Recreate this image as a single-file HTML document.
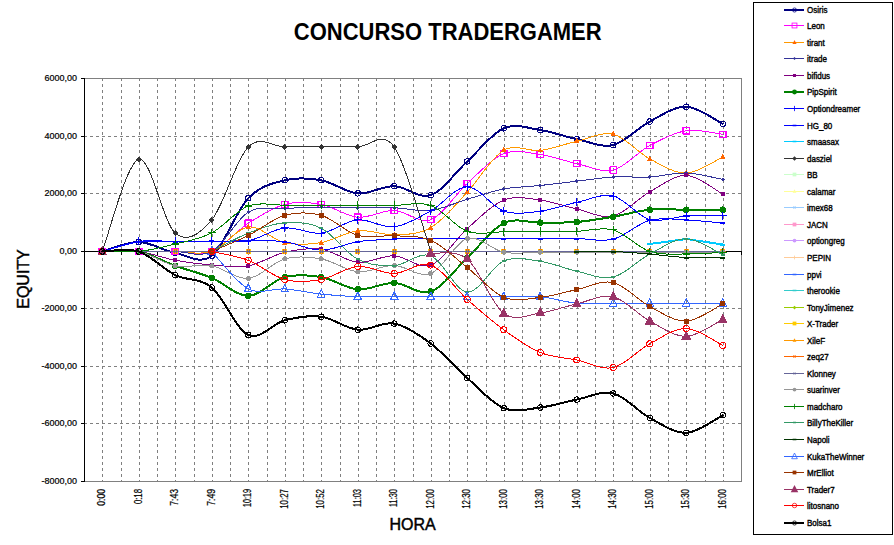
<!DOCTYPE html>
<html><head><meta charset="utf-8"><style>
html,body{margin:0;padding:0;background:#fff;width:894px;height:545px;overflow:hidden}
svg{display:block;font-family:"Liberation Sans",sans-serif}
</style></head><body>
<svg width="894" height="545" viewBox="0 0 894 545">
<rect width="894" height="545" fill="#fff"/>
<text transform="translate(447.75 40) scale(1 1.07)" font-size="22" font-weight="bold" text-anchor="middle" fill="#000">CONCURSO TRADERGAMER</text>
<g shape-rendering="crispEdges" stroke="#808080" stroke-width="1" fill="none"><line x1="102.5" y1="78" x2="102.5" y2="481" stroke-dasharray="3 3"/><line x1="121.5" y1="78" x2="121.5" y2="481" stroke-dasharray="3 3"/><line x1="139.5" y1="78" x2="139.5" y2="481" stroke-dasharray="3 3"/><line x1="157.5" y1="78" x2="157.5" y2="481" stroke-dasharray="3 3"/><line x1="175.5" y1="78" x2="175.5" y2="481" stroke-dasharray="3 3"/><line x1="194.5" y1="78" x2="194.5" y2="481" stroke-dasharray="3 3"/><line x1="212.5" y1="78" x2="212.5" y2="481" stroke-dasharray="3 3"/><line x1="230.5" y1="78" x2="230.5" y2="481" stroke-dasharray="3 3"/><line x1="248.5" y1="78" x2="248.5" y2="481" stroke-dasharray="3 3"/><line x1="267.5" y1="78" x2="267.5" y2="481" stroke-dasharray="3 3"/><line x1="285.5" y1="78" x2="285.5" y2="481" stroke-dasharray="3 3"/><line x1="303.5" y1="78" x2="303.5" y2="481" stroke-dasharray="3 3"/><line x1="321.5" y1="78" x2="321.5" y2="481" stroke-dasharray="3 3"/><line x1="340.5" y1="78" x2="340.5" y2="481" stroke-dasharray="3 3"/><line x1="358.5" y1="78" x2="358.5" y2="481" stroke-dasharray="3 3"/><line x1="376.5" y1="78" x2="376.5" y2="481" stroke-dasharray="3 3"/><line x1="394.5" y1="78" x2="394.5" y2="481" stroke-dasharray="3 3"/><line x1="413.5" y1="78" x2="413.5" y2="481" stroke-dasharray="3 3"/><line x1="431.5" y1="78" x2="431.5" y2="481" stroke-dasharray="3 3"/><line x1="449.5" y1="78" x2="449.5" y2="481" stroke-dasharray="3 3"/><line x1="467.5" y1="78" x2="467.5" y2="481" stroke-dasharray="3 3"/><line x1="486.5" y1="78" x2="486.5" y2="481" stroke-dasharray="3 3"/><line x1="504.5" y1="78" x2="504.5" y2="481" stroke-dasharray="3 3"/><line x1="522.5" y1="78" x2="522.5" y2="481" stroke-dasharray="3 3"/><line x1="540.5" y1="78" x2="540.5" y2="481" stroke-dasharray="3 3"/><line x1="559.5" y1="78" x2="559.5" y2="481" stroke-dasharray="3 3"/><line x1="577.5" y1="78" x2="577.5" y2="481" stroke-dasharray="3 3"/><line x1="595.5" y1="78" x2="595.5" y2="481" stroke-dasharray="3 3"/><line x1="613.5" y1="78" x2="613.5" y2="481" stroke-dasharray="3 3"/><line x1="632.5" y1="78" x2="632.5" y2="481" stroke-dasharray="3 3"/><line x1="650.5" y1="78" x2="650.5" y2="481" stroke-dasharray="3 3"/><line x1="668.5" y1="78" x2="668.5" y2="481" stroke-dasharray="3 3"/><line x1="686.5" y1="78" x2="686.5" y2="481" stroke-dasharray="3 3"/><line x1="705.5" y1="78" x2="705.5" y2="481" stroke-dasharray="3 3"/><line x1="723.5" y1="78" x2="723.5" y2="481" stroke-dasharray="3 3"/><line x1="84" y1="136.5" x2="741" y2="136.5" stroke-dasharray="3 3"/><line x1="84" y1="193.5" x2="741" y2="193.5" stroke-dasharray="3 3"/><line x1="84" y1="308.5" x2="741" y2="308.5" stroke-dasharray="3 3"/><line x1="84" y1="366.5" x2="741" y2="366.5" stroke-dasharray="3 3"/><line x1="84" y1="423.5" x2="741" y2="423.5" stroke-dasharray="3 3"/><line x1="84" y1="78.5" x2="742" y2="78.5"/><line x1="84" y1="481.5" x2="742" y2="481.5"/><line x1="741.5" y1="78" x2="741.5" y2="482"/></g>
<g shape-rendering="crispEdges" stroke="#000" stroke-width="1" fill="none"><line x1="84.5" y1="78" x2="84.5" y2="482"/><line x1="81" y1="78.5" x2="84" y2="78.5"/><line x1="81" y1="136.5" x2="84" y2="136.5"/><line x1="81" y1="193.5" x2="84" y2="193.5"/><line x1="81" y1="251.5" x2="84" y2="251.5"/><line x1="81" y1="308.5" x2="84" y2="308.5"/><line x1="81" y1="366.5" x2="84" y2="366.5"/><line x1="81" y1="423.5" x2="84" y2="423.5"/><line x1="81" y1="481.5" x2="84" y2="481.5"/><line x1="84" y1="251.5" x2="742" y2="251.5"/><line x1="121.5" y1="251" x2="121.5" y2="255"/><line x1="157.5" y1="251" x2="157.5" y2="255"/><line x1="194.5" y1="251" x2="194.5" y2="255"/><line x1="230.5" y1="251" x2="230.5" y2="255"/><line x1="267.5" y1="251" x2="267.5" y2="255"/><line x1="303.5" y1="251" x2="303.5" y2="255"/><line x1="340.5" y1="251" x2="340.5" y2="255"/><line x1="376.5" y1="251" x2="376.5" y2="255"/><line x1="413.5" y1="251" x2="413.5" y2="255"/><line x1="449.5" y1="251" x2="449.5" y2="255"/><line x1="486.5" y1="251" x2="486.5" y2="255"/><line x1="522.5" y1="251" x2="522.5" y2="255"/><line x1="559.5" y1="251" x2="559.5" y2="255"/><line x1="595.5" y1="251" x2="595.5" y2="255"/><line x1="632.5" y1="251" x2="632.5" y2="255"/><line x1="668.5" y1="251" x2="668.5" y2="255"/><line x1="705.5" y1="251" x2="705.5" y2="255"/><line x1="741.5" y1="251" x2="741.5" y2="255"/></g>
<g font-size="9" fill="#000" stroke="#000" stroke-width="0.2" text-anchor="end"><text x="77" y="80.8">6000,00</text><text x="77" y="138.8">4000,00</text><text x="77" y="195.8">2000,00</text><text x="77" y="253.8">0,00</text><text x="77" y="310.8">-2000,00</text><text x="77" y="368.8">-4000,00</text><text x="77" y="425.8">-6000,00</text><text x="77" y="483.8">-8000,00</text></g>
<g font-size="9" fill="#000" stroke="#000" stroke-width="0.2" text-anchor="end"><text transform="translate(105.45 489) rotate(-90) scale(1 1.12)" textLength="16.80" lengthAdjust="spacingAndGlyphs">0:00</text><text transform="translate(141.95 489) rotate(-90) scale(1 1.12)" textLength="15.10" lengthAdjust="spacingAndGlyphs">0:18</text><text transform="translate(178.45 489) rotate(-90) scale(1 1.12)" textLength="16.80" lengthAdjust="spacingAndGlyphs">7:43</text><text transform="translate(214.95 489) rotate(-90) scale(1 1.12)" textLength="16.80" lengthAdjust="spacingAndGlyphs">7:49</text><text transform="translate(251.45 489) rotate(-90) scale(1 1.12)" textLength="18.10" lengthAdjust="spacingAndGlyphs">10:19</text><text transform="translate(287.95 489) rotate(-90) scale(1 1.12)" textLength="19.80" lengthAdjust="spacingAndGlyphs">10:27</text><text transform="translate(324.45 489) rotate(-90) scale(1 1.12)" textLength="19.80" lengthAdjust="spacingAndGlyphs">10:52</text><text transform="translate(360.95 489) rotate(-90) scale(1 1.12)" textLength="18.10" lengthAdjust="spacingAndGlyphs">11:03</text><text transform="translate(397.45 489) rotate(-90) scale(1 1.12)" textLength="18.10" lengthAdjust="spacingAndGlyphs">11:30</text><text transform="translate(433.95 489) rotate(-90) scale(1 1.12)" textLength="19.80" lengthAdjust="spacingAndGlyphs">12:00</text><text transform="translate(470.45 489) rotate(-90) scale(1 1.12)" textLength="19.80" lengthAdjust="spacingAndGlyphs">12:30</text><text transform="translate(506.95 489) rotate(-90) scale(1 1.12)" textLength="19.80" lengthAdjust="spacingAndGlyphs">13:00</text><text transform="translate(543.45 489) rotate(-90) scale(1 1.12)" textLength="19.80" lengthAdjust="spacingAndGlyphs">13:30</text><text transform="translate(579.95 489) rotate(-90) scale(1 1.12)" textLength="19.80" lengthAdjust="spacingAndGlyphs">14:00</text><text transform="translate(616.45 489) rotate(-90) scale(1 1.12)" textLength="19.80" lengthAdjust="spacingAndGlyphs">14:30</text><text transform="translate(652.95 489) rotate(-90) scale(1 1.12)" textLength="19.80" lengthAdjust="spacingAndGlyphs">15:00</text><text transform="translate(689.45 489) rotate(-90) scale(1 1.12)" textLength="19.80" lengthAdjust="spacingAndGlyphs">15:30</text><text transform="translate(725.95 489) rotate(-90) scale(1 1.12)" textLength="19.80" lengthAdjust="spacingAndGlyphs">16:00</text></g>
<text x="412.5" y="530" font-size="16" text-anchor="middle" fill="#000" stroke="#000" stroke-width="0.45">HORA</text>
<text transform="translate(29 279) rotate(-90)" font-size="16" text-anchor="middle" fill="#000" stroke="#000" stroke-width="0.45">EQUITY</text>
<g fill="none" stroke-linejoin="round" stroke-linecap="round" shape-rendering="crispEdges">
<path d="M102.25 251.50 C108.33 249.92 126.58 241.76 138.75 242.00 C150.92 242.24 163.08 250.64 175.25 252.94 C187.42 255.24 199.58 264.93 211.75 255.82 C223.92 246.70 236.08 210.84 248.25 198.25 C260.42 185.65 272.58 183.25 284.75 180.26 C296.92 177.26 309.08 178.07 321.25 180.26 C333.42 182.44 345.58 192.37 357.75 193.35 C369.92 194.34 382.08 185.87 394.25 186.16 C406.42 186.44 418.58 199.21 430.75 195.08 C442.92 190.95 455.08 172.53 467.25 161.40 C479.42 150.27 491.58 133.53 503.75 128.30 C515.92 123.07 528.08 128.23 540.25 130.02 C552.42 131.82 564.58 136.60 576.75 139.09 C588.92 141.59 601.08 147.92 613.25 144.99 C625.42 142.07 637.58 127.91 649.75 121.53 C661.92 115.15 674.08 106.32 686.25 106.71 C698.42 107.09 716.67 120.98 722.75 123.84" stroke="#000080" stroke-width="2"/>
<circle cx="102.25" cy="251.50" r="2.75" fill="none" stroke="#000080" stroke-width="1"/>
<circle cx="138.75" cy="242.00" r="2.75" fill="none" stroke="#000080" stroke-width="1"/>
<circle cx="175.25" cy="252.94" r="2.75" fill="none" stroke="#000080" stroke-width="1"/>
<circle cx="211.75" cy="255.82" r="2.75" fill="none" stroke="#000080" stroke-width="1"/>
<circle cx="248.25" cy="198.25" r="2.75" fill="none" stroke="#000080" stroke-width="1"/>
<circle cx="284.75" cy="180.26" r="2.75" fill="none" stroke="#000080" stroke-width="1"/>
<circle cx="321.25" cy="180.26" r="2.75" fill="none" stroke="#000080" stroke-width="1"/>
<circle cx="357.75" cy="193.35" r="2.75" fill="none" stroke="#000080" stroke-width="1"/>
<circle cx="394.25" cy="186.16" r="2.75" fill="none" stroke="#000080" stroke-width="1"/>
<circle cx="430.75" cy="195.08" r="2.75" fill="none" stroke="#000080" stroke-width="1"/>
<circle cx="467.25" cy="161.40" r="2.75" fill="none" stroke="#000080" stroke-width="1"/>
<circle cx="503.75" cy="128.30" r="2.75" fill="none" stroke="#000080" stroke-width="1"/>
<circle cx="540.25" cy="130.02" r="2.75" fill="none" stroke="#000080" stroke-width="1"/>
<circle cx="576.75" cy="139.09" r="2.75" fill="none" stroke="#000080" stroke-width="1"/>
<circle cx="613.25" cy="144.99" r="2.75" fill="none" stroke="#000080" stroke-width="1"/>
<circle cx="649.75" cy="121.53" r="2.75" fill="none" stroke="#000080" stroke-width="1"/>
<circle cx="686.25" cy="106.71" r="2.75" fill="none" stroke="#000080" stroke-width="1"/>
<circle cx="722.75" cy="123.84" r="2.75" fill="none" stroke="#000080" stroke-width="1"/>
<path d="M102.25 251.50 C108.33 251.50 126.58 251.50 138.75 251.50 C150.92 251.50 163.08 251.50 175.25 251.50 C187.42 251.50 199.58 256.20 211.75 251.50 C223.92 246.80 236.08 231.14 248.25 223.29 C260.42 215.44 272.58 207.55 284.75 204.41 C296.92 201.26 309.08 202.27 321.25 204.41 C333.42 206.54 345.58 216.21 357.75 217.22 C369.92 218.22 382.08 210.04 394.25 210.45 C406.42 210.86 418.58 224.18 430.75 219.69 C442.92 215.20 455.08 194.52 467.25 183.51 C479.42 172.50 491.58 158.46 503.75 153.63 C515.92 148.79 528.08 152.83 540.25 154.49 C552.42 156.15 564.58 161.00 576.75 163.59 C588.92 166.17 601.08 173.02 613.25 170.01 C625.42 166.99 637.58 152.06 649.75 145.51 C661.92 138.96 674.08 132.58 686.25 130.72 C698.42 128.85 716.67 133.71 722.75 134.31" stroke="#FF00FF" stroke-width="1"/>
<rect x="99.00" y="248.25" width="6.50" height="6.50" fill="none" stroke="#FF00FF" stroke-width="1.1"/>
<rect x="135.50" y="248.25" width="6.50" height="6.50" fill="none" stroke="#FF00FF" stroke-width="1.1"/>
<rect x="172.00" y="248.25" width="6.50" height="6.50" fill="none" stroke="#FF00FF" stroke-width="1.1"/>
<rect x="208.50" y="248.25" width="6.50" height="6.50" fill="none" stroke="#FF00FF" stroke-width="1.1"/>
<rect x="245.00" y="220.04" width="6.50" height="6.50" fill="none" stroke="#FF00FF" stroke-width="1.1"/>
<rect x="281.50" y="201.16" width="6.50" height="6.50" fill="none" stroke="#FF00FF" stroke-width="1.1"/>
<rect x="318.00" y="201.16" width="6.50" height="6.50" fill="none" stroke="#FF00FF" stroke-width="1.1"/>
<rect x="354.50" y="213.97" width="6.50" height="6.50" fill="none" stroke="#FF00FF" stroke-width="1.1"/>
<rect x="391.00" y="207.20" width="6.50" height="6.50" fill="none" stroke="#FF00FF" stroke-width="1.1"/>
<rect x="427.50" y="216.44" width="6.50" height="6.50" fill="none" stroke="#FF00FF" stroke-width="1.1"/>
<rect x="464.00" y="180.26" width="6.50" height="6.50" fill="none" stroke="#FF00FF" stroke-width="1.1"/>
<rect x="500.50" y="150.38" width="6.50" height="6.50" fill="none" stroke="#FF00FF" stroke-width="1.1"/>
<rect x="537.00" y="151.24" width="6.50" height="6.50" fill="none" stroke="#FF00FF" stroke-width="1.1"/>
<rect x="573.50" y="160.34" width="6.50" height="6.50" fill="none" stroke="#FF00FF" stroke-width="1.1"/>
<rect x="610.00" y="166.76" width="6.50" height="6.50" fill="none" stroke="#FF00FF" stroke-width="1.1"/>
<rect x="646.50" y="142.26" width="6.50" height="6.50" fill="none" stroke="#FF00FF" stroke-width="1.1"/>
<rect x="683.00" y="127.47" width="6.50" height="6.50" fill="none" stroke="#FF00FF" stroke-width="1.1"/>
<rect x="719.50" y="131.06" width="6.50" height="6.50" fill="none" stroke="#FF00FF" stroke-width="1.1"/>
<path d="M102.25 251.50 C108.33 251.50 126.58 251.50 138.75 251.50 C150.92 251.50 163.08 251.50 175.25 251.50 C187.42 251.50 199.58 255.58 211.75 251.50 C223.92 247.42 236.08 228.51 248.25 227.03 C260.42 225.55 272.58 240.01 284.75 242.61 C296.92 245.20 309.08 244.59 321.25 242.61 C333.42 240.62 345.58 232.02 357.75 230.72 C369.92 229.42 382.08 235.31 394.25 234.80 C406.42 234.30 418.58 234.79 430.75 227.69 C442.92 220.59 455.08 205.12 467.25 192.20 C479.42 179.29 491.58 157.16 503.75 150.20 C515.92 143.25 528.08 151.94 540.25 150.46 C552.42 148.98 564.58 144.00 576.75 141.31 C588.92 138.62 601.08 131.38 613.25 134.31 C625.42 137.24 637.58 152.45 649.75 158.90 C661.92 165.34 674.08 173.32 686.25 173.00 C698.42 172.68 716.67 159.66 722.75 157.00" stroke="#FF9900" stroke-width="1"/>
<path d="M102.25 248.20 L105.00 253.43 L99.50 253.43 Z" fill="#FF6600"/>
<path d="M138.75 248.20 L141.50 253.43 L136.00 253.43 Z" fill="#FF6600"/>
<path d="M175.25 248.20 L178.00 253.43 L172.50 253.43 Z" fill="#FF6600"/>
<path d="M211.75 248.20 L214.50 253.43 L209.00 253.43 Z" fill="#FF6600"/>
<path d="M248.25 223.73 L251.00 228.96 L245.50 228.96 Z" fill="#FF6600"/>
<path d="M284.75 239.31 L287.50 244.53 L282.00 244.53 Z" fill="#FF6600"/>
<path d="M321.25 239.31 L324.00 244.53 L318.50 244.53 Z" fill="#FF6600"/>
<path d="M357.75 227.42 L360.50 232.64 L355.00 232.64 Z" fill="#FF6600"/>
<path d="M394.25 231.50 L397.00 236.73 L391.50 236.73 Z" fill="#FF6600"/>
<path d="M430.75 224.39 L433.50 229.62 L428.00 229.62 Z" fill="#FF6600"/>
<path d="M467.25 188.90 L470.00 194.13 L464.50 194.13 Z" fill="#FF6600"/>
<path d="M503.75 146.90 L506.50 152.13 L501.00 152.13 Z" fill="#FF6600"/>
<path d="M540.25 147.16 L543.00 152.39 L537.50 152.39 Z" fill="#FF6600"/>
<path d="M576.75 138.01 L579.50 143.23 L574.00 143.23 Z" fill="#FF6600"/>
<path d="M613.25 131.01 L616.00 136.24 L610.50 136.24 Z" fill="#FF6600"/>
<path d="M649.75 155.60 L652.50 160.82 L647.00 160.82 Z" fill="#FF6600"/>
<path d="M686.25 169.70 L689.00 174.93 L683.50 174.93 Z" fill="#FF6600"/>
<path d="M722.75 153.70 L725.50 158.92 L720.00 158.92 Z" fill="#FF6600"/>
<path d="M102.25 251.50 C108.33 251.50 126.58 251.50 138.75 251.50 C150.92 251.50 163.08 251.50 175.25 251.50 C187.42 251.50 199.58 258.05 211.75 251.50 C223.92 244.95 236.08 219.38 248.25 212.21 C260.42 205.04 272.58 209.35 284.75 208.49 C296.92 207.64 309.08 207.18 321.25 207.08 C333.42 206.98 345.58 207.78 357.75 207.89 C369.92 208.00 382.08 207.33 394.25 207.75 C406.42 208.16 418.58 211.81 430.75 210.39 C442.92 208.98 455.08 202.82 467.25 199.25 C479.42 195.69 491.58 191.30 503.75 189.01 C515.92 186.71 528.08 186.79 540.25 185.49 C552.42 184.19 564.58 182.62 576.75 181.21 C588.92 179.79 601.08 177.70 613.25 177.00 C625.42 176.30 637.58 177.67 649.75 177.00 C661.92 176.34 674.08 172.60 686.25 173.00 C698.42 173.40 716.67 178.33 722.75 179.39" stroke="#333399" stroke-width="1"/>
<path d="M102.25 249.50 L104.25 251.50 L102.25 253.50 L100.25 251.50 Z" fill="#333399"/>
<path d="M138.75 249.50 L140.75 251.50 L138.75 253.50 L136.75 251.50 Z" fill="#333399"/>
<path d="M175.25 249.50 L177.25 251.50 L175.25 253.50 L173.25 251.50 Z" fill="#333399"/>
<path d="M211.75 249.50 L213.75 251.50 L211.75 253.50 L209.75 251.50 Z" fill="#333399"/>
<path d="M248.25 210.21 L250.25 212.21 L248.25 214.21 L246.25 212.21 Z" fill="#333399"/>
<path d="M284.75 206.49 L286.75 208.49 L284.75 210.49 L282.75 208.49 Z" fill="#333399"/>
<path d="M321.25 205.08 L323.25 207.08 L321.25 209.08 L319.25 207.08 Z" fill="#333399"/>
<path d="M357.75 205.89 L359.75 207.89 L357.75 209.89 L355.75 207.89 Z" fill="#333399"/>
<path d="M394.25 205.75 L396.25 207.75 L394.25 209.75 L392.25 207.75 Z" fill="#333399"/>
<path d="M430.75 208.39 L432.75 210.39 L430.75 212.39 L428.75 210.39 Z" fill="#333399"/>
<path d="M467.25 197.25 L469.25 199.25 L467.25 201.25 L465.25 199.25 Z" fill="#333399"/>
<path d="M503.75 187.01 L505.75 189.01 L503.75 191.01 L501.75 189.01 Z" fill="#333399"/>
<path d="M540.25 183.49 L542.25 185.49 L540.25 187.49 L538.25 185.49 Z" fill="#333399"/>
<path d="M576.75 179.21 L578.75 181.21 L576.75 183.21 L574.75 181.21 Z" fill="#333399"/>
<path d="M613.25 175.00 L615.25 177.00 L613.25 179.00 L611.25 177.00 Z" fill="#333399"/>
<path d="M649.75 175.00 L651.75 177.00 L649.75 179.00 L647.75 177.00 Z" fill="#333399"/>
<path d="M686.25 171.00 L688.25 173.00 L686.25 175.00 L684.25 173.00 Z" fill="#333399"/>
<path d="M722.75 177.39 L724.75 179.39 L722.75 181.39 L720.75 179.39 Z" fill="#333399"/>
<path d="M102.25 251.50 C108.33 251.50 126.58 250.03 138.75 251.50 C150.92 252.97 163.08 258.06 175.25 260.31 C187.42 262.56 199.58 264.08 211.75 265.00 C223.92 265.92 236.08 267.91 248.25 265.81 C260.42 263.70 272.58 255.13 284.75 252.36 C296.92 249.60 309.08 247.54 321.25 249.20 C333.42 250.85 345.58 261.19 357.75 262.29 C369.92 263.40 382.08 255.35 394.25 255.82 C406.42 256.28 418.58 269.61 430.75 265.09 C442.92 260.57 455.08 239.53 467.25 228.70 C479.42 217.87 491.58 204.86 503.75 200.09 C515.92 195.32 528.08 198.60 540.25 200.09 C552.42 201.58 564.58 206.36 576.75 209.01 C588.92 211.67 601.08 218.88 613.25 216.01 C625.42 213.14 637.58 198.57 649.75 191.80 C661.92 185.03 674.08 174.99 686.25 175.39 C698.42 175.79 716.67 191.05 722.75 194.19" stroke="#800080" stroke-width="1"/>
<rect x="100.25" y="249.50" width="4.00" height="4.00" fill="#800080"/>
<rect x="136.75" y="249.50" width="4.00" height="4.00" fill="#800080"/>
<rect x="173.25" y="258.31" width="4.00" height="4.00" fill="#800080"/>
<rect x="209.75" y="263.00" width="4.00" height="4.00" fill="#800080"/>
<rect x="246.25" y="263.81" width="4.00" height="4.00" fill="#800080"/>
<rect x="282.75" y="250.36" width="4.00" height="4.00" fill="#800080"/>
<rect x="319.25" y="247.20" width="4.00" height="4.00" fill="#800080"/>
<rect x="355.75" y="260.29" width="4.00" height="4.00" fill="#800080"/>
<rect x="392.25" y="253.82" width="4.00" height="4.00" fill="#800080"/>
<rect x="428.75" y="263.09" width="4.00" height="4.00" fill="#800080"/>
<rect x="465.25" y="226.70" width="4.00" height="4.00" fill="#800080"/>
<rect x="501.75" y="198.09" width="4.00" height="4.00" fill="#800080"/>
<rect x="538.25" y="198.09" width="4.00" height="4.00" fill="#800080"/>
<rect x="574.75" y="207.01" width="4.00" height="4.00" fill="#800080"/>
<rect x="611.25" y="214.01" width="4.00" height="4.00" fill="#800080"/>
<rect x="647.75" y="189.80" width="4.00" height="4.00" fill="#800080"/>
<rect x="684.25" y="173.39" width="4.00" height="4.00" fill="#800080"/>
<rect x="720.75" y="192.19" width="4.00" height="4.00" fill="#800080"/>
<path d="M102.25 251.50 C108.33 251.50 126.58 249.12 138.75 251.50 C150.92 253.88 163.08 261.42 175.25 265.81 C187.42 270.20 199.58 272.84 211.75 277.84 C223.92 282.84 236.08 295.95 248.25 295.83 C260.42 295.71 272.58 280.21 284.75 277.09 C296.92 273.97 309.08 275.05 321.25 277.09 C333.42 279.13 345.58 288.39 357.75 289.35 C369.92 290.32 382.08 282.52 394.25 282.88 C406.42 283.24 418.58 295.69 430.75 291.51 C442.92 287.34 455.08 269.23 467.25 257.83 C479.42 246.43 491.58 228.99 503.75 223.12 C515.92 217.25 528.08 222.79 540.25 222.60 C552.42 222.41 564.58 222.98 576.75 221.99 C588.92 221.01 601.08 218.75 613.25 216.70 C625.42 214.65 637.58 210.87 649.75 209.70 C661.92 208.54 674.08 209.70 686.25 209.70 C698.42 209.70 716.67 209.70 722.75 209.70" stroke="#008000" stroke-width="2"/>
<circle cx="102.25" cy="251.50" r="3.25" fill="#008000"/>
<circle cx="138.75" cy="251.50" r="3.25" fill="#008000"/>
<circle cx="175.25" cy="265.81" r="3.25" fill="#008000"/>
<circle cx="211.75" cy="277.84" r="3.25" fill="#008000"/>
<circle cx="248.25" cy="295.83" r="3.25" fill="#008000"/>
<circle cx="284.75" cy="277.09" r="3.25" fill="#008000"/>
<circle cx="321.25" cy="277.09" r="3.25" fill="#008000"/>
<circle cx="357.75" cy="289.35" r="3.25" fill="#008000"/>
<circle cx="394.25" cy="282.88" r="3.25" fill="#008000"/>
<circle cx="430.75" cy="291.51" r="3.25" fill="#008000"/>
<circle cx="467.25" cy="257.83" r="3.25" fill="#008000"/>
<circle cx="503.75" cy="223.12" r="3.25" fill="#008000"/>
<circle cx="540.25" cy="222.60" r="3.25" fill="#008000"/>
<circle cx="576.75" cy="221.99" r="3.25" fill="#008000"/>
<circle cx="613.25" cy="216.70" r="3.25" fill="#008000"/>
<circle cx="649.75" cy="209.70" r="3.25" fill="#008000"/>
<circle cx="686.25" cy="209.70" r="3.25" fill="#008000"/>
<circle cx="722.75" cy="209.70" r="3.25" fill="#008000"/>
<path d="M102.25 251.50 C108.33 249.82 126.58 243.10 138.75 241.43 C150.92 239.75 163.08 241.44 175.25 241.43 C187.42 241.41 199.58 241.42 211.75 241.31 C223.92 241.20 236.08 243.01 248.25 240.79 C260.42 238.58 272.58 229.29 284.75 228.01 C296.92 226.73 309.08 234.47 321.25 233.11 C333.42 231.74 345.58 220.87 357.75 219.84 C369.92 218.80 382.08 228.38 394.25 226.89 C406.42 225.40 418.58 217.58 430.75 210.91 C442.92 204.24 455.08 186.86 467.25 186.88 C479.42 186.89 491.58 206.94 503.75 211.00 C515.92 215.05 528.08 212.63 540.25 211.20 C552.42 209.77 564.58 204.91 576.75 202.39 C588.92 199.88 601.08 193.25 613.25 196.12 C625.42 198.99 637.58 216.29 649.75 219.61 C661.92 222.92 674.08 216.64 686.25 216.01 C698.42 215.37 716.67 215.84 722.75 215.81" stroke="#0000FF" stroke-width="1"/>
<path d="M98.75 251.50 h7.00 M102.25 248.00 v7.00" stroke="#0000FF" stroke-width="1.1" fill="none"/>
<path d="M135.25 241.43 h7.00 M138.75 237.93 v7.00" stroke="#0000FF" stroke-width="1.1" fill="none"/>
<path d="M171.75 241.43 h7.00 M175.25 237.93 v7.00" stroke="#0000FF" stroke-width="1.1" fill="none"/>
<path d="M208.25 241.31 h7.00 M211.75 237.81 v7.00" stroke="#0000FF" stroke-width="1.1" fill="none"/>
<path d="M244.75 240.79 h7.00 M248.25 237.29 v7.00" stroke="#0000FF" stroke-width="1.1" fill="none"/>
<path d="M281.25 228.01 h7.00 M284.75 224.51 v7.00" stroke="#0000FF" stroke-width="1.1" fill="none"/>
<path d="M317.75 233.11 h7.00 M321.25 229.61 v7.00" stroke="#0000FF" stroke-width="1.1" fill="none"/>
<path d="M354.25 219.84 h7.00 M357.75 216.34 v7.00" stroke="#0000FF" stroke-width="1.1" fill="none"/>
<path d="M390.75 226.89 h7.00 M394.25 223.39 v7.00" stroke="#0000FF" stroke-width="1.1" fill="none"/>
<path d="M427.25 210.91 h7.00 M430.75 207.41 v7.00" stroke="#0000FF" stroke-width="1.1" fill="none"/>
<path d="M463.75 186.88 h7.00 M467.25 183.38 v7.00" stroke="#0000FF" stroke-width="1.1" fill="none"/>
<path d="M500.25 211.00 h7.00 M503.75 207.50 v7.00" stroke="#0000FF" stroke-width="1.1" fill="none"/>
<path d="M536.75 211.20 h7.00 M540.25 207.70 v7.00" stroke="#0000FF" stroke-width="1.1" fill="none"/>
<path d="M573.25 202.39 h7.00 M576.75 198.89 v7.00" stroke="#0000FF" stroke-width="1.1" fill="none"/>
<path d="M609.75 196.12 h7.00 M613.25 192.62 v7.00" stroke="#0000FF" stroke-width="1.1" fill="none"/>
<path d="M646.25 219.61 h7.00 M649.75 216.11 v7.00" stroke="#0000FF" stroke-width="1.1" fill="none"/>
<path d="M682.75 216.01 h7.00 M686.25 212.51 v7.00" stroke="#0000FF" stroke-width="1.1" fill="none"/>
<path d="M719.25 215.81 h7.00 M722.75 212.31 v7.00" stroke="#0000FF" stroke-width="1.1" fill="none"/>
<path d="M102.25 251.50 C108.33 249.92 126.58 243.63 138.75 242.00 C150.92 240.37 163.08 241.83 175.25 241.71 C187.42 241.60 199.58 241.45 211.75 241.31 C223.92 241.17 236.08 240.78 248.25 240.85 C260.42 240.92 272.58 240.15 284.75 241.71 C296.92 243.27 309.08 250.20 321.25 250.20 C333.42 250.20 345.58 243.56 357.75 241.71 C369.92 239.87 382.08 239.65 394.25 239.12 C406.42 238.59 418.58 238.64 430.75 238.55 C442.92 238.45 455.08 238.55 467.25 238.55 C479.42 238.55 491.58 238.55 503.75 238.55 C515.92 238.55 528.08 238.55 540.25 238.55 C552.42 238.55 564.58 238.45 576.75 238.55 C588.92 238.64 601.08 242.16 613.25 239.12 C625.42 236.09 637.58 223.53 649.75 220.33 C661.92 217.13 674.08 219.46 686.25 219.92 C698.42 220.39 716.67 222.58 722.75 223.12" stroke="#0000FF" stroke-width="1"/>
<rect x="99.75" y="250.50" width="5.00" height="2" fill="#0000FF"/>
<rect x="136.25" y="241.00" width="5.00" height="2" fill="#0000FF"/>
<rect x="172.75" y="240.71" width="5.00" height="2" fill="#0000FF"/>
<rect x="209.25" y="240.31" width="5.00" height="2" fill="#0000FF"/>
<rect x="245.75" y="239.85" width="5.00" height="2" fill="#0000FF"/>
<rect x="282.25" y="240.71" width="5.00" height="2" fill="#0000FF"/>
<rect x="318.75" y="249.20" width="5.00" height="2" fill="#0000FF"/>
<rect x="355.25" y="240.71" width="5.00" height="2" fill="#0000FF"/>
<rect x="391.75" y="238.12" width="5.00" height="2" fill="#0000FF"/>
<rect x="428.25" y="237.55" width="5.00" height="2" fill="#0000FF"/>
<rect x="464.75" y="237.55" width="5.00" height="2" fill="#0000FF"/>
<rect x="501.25" y="237.55" width="5.00" height="2" fill="#0000FF"/>
<rect x="537.75" y="237.55" width="5.00" height="2" fill="#0000FF"/>
<rect x="574.25" y="237.55" width="5.00" height="2" fill="#0000FF"/>
<rect x="610.75" y="238.12" width="5.00" height="2" fill="#0000FF"/>
<rect x="647.25" y="219.33" width="5.00" height="2" fill="#0000FF"/>
<rect x="683.75" y="218.92" width="5.00" height="2" fill="#0000FF"/>
<rect x="720.25" y="222.12" width="5.00" height="2" fill="#0000FF"/>
<path d="M649.75 244.02 L686.25 238.98 L722.75 244.51" stroke="#00CCFF" stroke-width="2"/>
<rect x="647.25" y="243.02" width="5.00" height="2" fill="#00CCFF"/>
<rect x="683.75" y="237.98" width="5.00" height="2" fill="#00CCFF"/>
<rect x="720.25" y="243.51" width="5.00" height="2" fill="#00CCFF"/>
<path d="M102.25 251.50 C108.33 236.15 126.58 162.46 138.75 159.39 C150.92 156.32 163.08 222.99 175.25 233.08 C187.42 243.16 199.58 234.26 211.75 219.89 C223.92 205.53 236.08 159.06 248.25 146.89 C260.42 134.73 272.58 146.89 284.75 146.89 C296.92 146.89 309.08 146.89 321.25 146.89 C333.42 146.89 345.58 146.89 357.75 146.89 C369.92 146.89 382.08 129.46 394.25 146.89 C406.42 164.33 424.67 234.07 430.75 251.50" stroke="#333333" stroke-width="1"/>
<path d="M102.25 248.50 L105.25 251.50 L102.25 254.50 L99.25 251.50 Z" fill="#333333"/>
<path d="M138.75 156.39 L141.75 159.39 L138.75 162.39 L135.75 159.39 Z" fill="#333333"/>
<path d="M175.25 230.08 L178.25 233.08 L175.25 236.08 L172.25 233.08 Z" fill="#333333"/>
<path d="M211.75 216.89 L214.75 219.89 L211.75 222.89 L208.75 219.89 Z" fill="#333333"/>
<path d="M248.25 143.89 L251.25 146.89 L248.25 149.89 L245.25 146.89 Z" fill="#333333"/>
<path d="M284.75 143.89 L287.75 146.89 L284.75 149.89 L281.75 146.89 Z" fill="#333333"/>
<path d="M321.25 143.89 L324.25 146.89 L321.25 149.89 L318.25 146.89 Z" fill="#333333"/>
<path d="M357.75 143.89 L360.75 146.89 L357.75 149.89 L354.75 146.89 Z" fill="#333333"/>
<path d="M394.25 143.89 L397.25 146.89 L394.25 149.89 L391.25 146.89 Z" fill="#333333"/>
<path d="M430.75 248.50 L433.75 251.50 L430.75 254.50 L427.75 251.50 Z" fill="#333333"/>
<path d="M102.25 251.50 C108.33 251.50 126.58 251.50 138.75 251.50 C150.92 251.50 163.08 251.50 175.25 251.50 C187.42 251.50 199.58 251.50 211.75 251.50 C223.92 251.50 236.08 251.50 248.25 251.50 C260.42 251.50 272.58 251.50 284.75 251.50 C296.92 251.50 309.08 251.50 321.25 251.50 C333.42 251.50 345.58 251.50 357.75 251.50 C369.92 251.50 382.08 251.50 394.25 251.50 C406.42 251.50 418.58 251.50 430.75 251.50 C442.92 251.50 455.08 251.50 467.25 251.50 C479.42 251.50 491.58 251.50 503.75 251.50 C515.92 251.50 528.08 251.50 540.25 251.50 C552.42 251.50 564.58 251.50 576.75 251.50 C588.92 251.50 601.08 251.50 613.25 251.50 C625.42 251.50 637.58 251.50 649.75 251.50 C661.92 251.50 674.08 251.50 686.25 251.50 C698.42 251.50 716.67 251.50 722.75 251.50" stroke="#CCFFCC" stroke-width="1"/>
<rect x="99.75" y="249.00" width="5.00" height="5.00" fill="#CCFFCC"/>
<rect x="136.25" y="249.00" width="5.00" height="5.00" fill="#CCFFCC"/>
<rect x="172.75" y="249.00" width="5.00" height="5.00" fill="#CCFFCC"/>
<rect x="209.25" y="249.00" width="5.00" height="5.00" fill="#CCFFCC"/>
<rect x="245.75" y="249.00" width="5.00" height="5.00" fill="#CCFFCC"/>
<rect x="282.25" y="249.00" width="5.00" height="5.00" fill="#CCFFCC"/>
<rect x="318.75" y="249.00" width="5.00" height="5.00" fill="#CCFFCC"/>
<rect x="355.25" y="249.00" width="5.00" height="5.00" fill="#CCFFCC"/>
<rect x="391.75" y="249.00" width="5.00" height="5.00" fill="#CCFFCC"/>
<rect x="428.25" y="249.00" width="5.00" height="5.00" fill="#CCFFCC"/>
<rect x="464.75" y="249.00" width="5.00" height="5.00" fill="#CCFFCC"/>
<rect x="501.25" y="249.00" width="5.00" height="5.00" fill="#CCFFCC"/>
<rect x="537.75" y="249.00" width="5.00" height="5.00" fill="#CCFFCC"/>
<rect x="574.25" y="249.00" width="5.00" height="5.00" fill="#CCFFCC"/>
<rect x="610.75" y="249.00" width="5.00" height="5.00" fill="#CCFFCC"/>
<rect x="647.25" y="249.00" width="5.00" height="5.00" fill="#CCFFCC"/>
<rect x="683.75" y="249.00" width="5.00" height="5.00" fill="#CCFFCC"/>
<rect x="720.25" y="249.00" width="5.00" height="5.00" fill="#CCFFCC"/>
<path d="M102.25 251.50 C108.33 251.50 126.58 251.50 138.75 251.50 C150.92 251.50 163.08 251.50 175.25 251.50 C187.42 251.50 199.58 251.50 211.75 251.50 C223.92 251.50 236.08 251.50 248.25 251.50 C260.42 251.50 272.58 251.50 284.75 251.50 C296.92 251.50 309.08 251.50 321.25 251.50 C333.42 251.50 345.58 251.50 357.75 251.50 C369.92 251.50 382.08 251.50 394.25 251.50 C406.42 251.50 418.58 251.50 430.75 251.50 C442.92 251.50 455.08 251.50 467.25 251.50 C479.42 251.50 491.58 251.50 503.75 251.50 C515.92 251.50 528.08 251.50 540.25 251.50 C552.42 251.50 564.58 251.50 576.75 251.50 C588.92 251.50 601.08 251.50 613.25 251.50 C625.42 251.50 637.58 251.50 649.75 251.50 C661.92 251.50 674.08 251.50 686.25 251.50 C698.42 251.50 716.67 251.50 722.75 251.50" stroke="#FFFF99" stroke-width="1"/>
<path d="M102.25 248.50 L104.75 253.25 L99.75 253.25 Z" fill="#FFFF99"/>
<path d="M138.75 248.50 L141.25 253.25 L136.25 253.25 Z" fill="#FFFF99"/>
<path d="M175.25 248.50 L177.75 253.25 L172.75 253.25 Z" fill="#FFFF99"/>
<path d="M211.75 248.50 L214.25 253.25 L209.25 253.25 Z" fill="#FFFF99"/>
<path d="M248.25 248.50 L250.75 253.25 L245.75 253.25 Z" fill="#FFFF99"/>
<path d="M284.75 248.50 L287.25 253.25 L282.25 253.25 Z" fill="#FFFF99"/>
<path d="M321.25 248.50 L323.75 253.25 L318.75 253.25 Z" fill="#FFFF99"/>
<path d="M357.75 248.50 L360.25 253.25 L355.25 253.25 Z" fill="#FFFF99"/>
<path d="M394.25 248.50 L396.75 253.25 L391.75 253.25 Z" fill="#FFFF99"/>
<path d="M430.75 248.50 L433.25 253.25 L428.25 253.25 Z" fill="#FFFF99"/>
<path d="M467.25 248.50 L469.75 253.25 L464.75 253.25 Z" fill="#FFFF99"/>
<path d="M503.75 248.50 L506.25 253.25 L501.25 253.25 Z" fill="#FFFF99"/>
<path d="M540.25 248.50 L542.75 253.25 L537.75 253.25 Z" fill="#FFFF99"/>
<path d="M576.75 248.50 L579.25 253.25 L574.25 253.25 Z" fill="#FFFF99"/>
<path d="M613.25 248.50 L615.75 253.25 L610.75 253.25 Z" fill="#FFFF99"/>
<path d="M649.75 248.50 L652.25 253.25 L647.25 253.25 Z" fill="#FFFF99"/>
<path d="M686.25 248.50 L688.75 253.25 L683.75 253.25 Z" fill="#FFFF99"/>
<path d="M722.75 248.50 L725.25 253.25 L720.25 253.25 Z" fill="#FFFF99"/>
<path d="M102.25 251.50 C108.33 251.50 126.58 251.50 138.75 251.50 C150.92 251.50 163.08 251.50 175.25 251.50 C187.42 251.50 199.58 251.50 211.75 251.50 C223.92 251.50 236.08 251.50 248.25 251.50 C260.42 251.50 272.58 251.50 284.75 251.50 C296.92 251.50 309.08 251.50 321.25 251.50 C333.42 251.50 345.58 251.50 357.75 251.50 C369.92 251.50 382.08 251.50 394.25 251.50 C406.42 251.50 418.58 251.50 430.75 251.50 C442.92 251.50 455.08 251.50 467.25 251.50 C479.42 251.50 491.58 251.50 503.75 251.50 C515.92 251.50 528.08 251.50 540.25 251.50 C552.42 251.50 564.58 251.50 576.75 251.50 C588.92 251.50 601.08 251.50 613.25 251.50 C625.42 251.50 637.58 251.50 649.75 251.50 C661.92 251.50 674.08 251.50 686.25 251.50 C698.42 251.50 716.67 251.50 722.75 251.50" stroke="#99CCFF" stroke-width="1"/>
<path d="M99.75 251.50 h5.00 M101.25 249.50 v4.00 M103.25 249.50 v4.00" stroke="#99CCFF" stroke-width="1" fill="none"/>
<path d="M136.25 251.50 h5.00 M137.75 249.50 v4.00 M139.75 249.50 v4.00" stroke="#99CCFF" stroke-width="1" fill="none"/>
<path d="M172.75 251.50 h5.00 M174.25 249.50 v4.00 M176.25 249.50 v4.00" stroke="#99CCFF" stroke-width="1" fill="none"/>
<path d="M209.25 251.50 h5.00 M210.75 249.50 v4.00 M212.75 249.50 v4.00" stroke="#99CCFF" stroke-width="1" fill="none"/>
<path d="M245.75 251.50 h5.00 M247.25 249.50 v4.00 M249.25 249.50 v4.00" stroke="#99CCFF" stroke-width="1" fill="none"/>
<path d="M282.25 251.50 h5.00 M283.75 249.50 v4.00 M285.75 249.50 v4.00" stroke="#99CCFF" stroke-width="1" fill="none"/>
<path d="M318.75 251.50 h5.00 M320.25 249.50 v4.00 M322.25 249.50 v4.00" stroke="#99CCFF" stroke-width="1" fill="none"/>
<path d="M355.25 251.50 h5.00 M356.75 249.50 v4.00 M358.75 249.50 v4.00" stroke="#99CCFF" stroke-width="1" fill="none"/>
<path d="M391.75 251.50 h5.00 M393.25 249.50 v4.00 M395.25 249.50 v4.00" stroke="#99CCFF" stroke-width="1" fill="none"/>
<path d="M428.25 251.50 h5.00 M429.75 249.50 v4.00 M431.75 249.50 v4.00" stroke="#99CCFF" stroke-width="1" fill="none"/>
<path d="M464.75 251.50 h5.00 M466.25 249.50 v4.00 M468.25 249.50 v4.00" stroke="#99CCFF" stroke-width="1" fill="none"/>
<path d="M501.25 251.50 h5.00 M502.75 249.50 v4.00 M504.75 249.50 v4.00" stroke="#99CCFF" stroke-width="1" fill="none"/>
<path d="M537.75 251.50 h5.00 M539.25 249.50 v4.00 M541.25 249.50 v4.00" stroke="#99CCFF" stroke-width="1" fill="none"/>
<path d="M574.25 251.50 h5.00 M575.75 249.50 v4.00 M577.75 249.50 v4.00" stroke="#99CCFF" stroke-width="1" fill="none"/>
<path d="M610.75 251.50 h5.00 M612.25 249.50 v4.00 M614.25 249.50 v4.00" stroke="#99CCFF" stroke-width="1" fill="none"/>
<path d="M647.25 251.50 h5.00 M648.75 249.50 v4.00 M650.75 249.50 v4.00" stroke="#99CCFF" stroke-width="1" fill="none"/>
<path d="M683.75 251.50 h5.00 M685.25 249.50 v4.00 M687.25 249.50 v4.00" stroke="#99CCFF" stroke-width="1" fill="none"/>
<path d="M720.25 251.50 h5.00 M721.75 249.50 v4.00 M723.75 249.50 v4.00" stroke="#99CCFF" stroke-width="1" fill="none"/>
<path d="M102.25 251.50 C108.33 251.50 126.58 251.50 138.75 251.50 C150.92 251.50 163.08 251.50 175.25 251.50 C187.42 251.50 199.58 251.50 211.75 251.50 C223.92 251.50 236.08 251.50 248.25 251.50 C260.42 251.50 272.58 251.50 284.75 251.50 C296.92 251.50 309.08 251.50 321.25 251.50 C333.42 251.50 345.58 251.50 357.75 251.50 C369.92 251.50 382.08 251.50 394.25 251.50 C406.42 251.50 418.58 251.50 430.75 251.50 C442.92 251.50 455.08 251.50 467.25 251.50 C479.42 251.50 491.58 251.50 503.75 251.50 C515.92 251.50 528.08 251.50 540.25 251.50 C552.42 251.50 564.58 251.50 576.75 251.50 C588.92 251.50 601.08 251.50 613.25 251.50 C625.42 251.50 637.58 251.50 649.75 251.50 C661.92 251.50 674.08 251.50 686.25 251.50 C698.42 251.50 716.67 251.50 722.75 251.50" stroke="#FF99CC" stroke-width="1"/>
<rect x="99.75" y="249.00" width="5.00" height="5.00" fill="#FF99CC"/>
<rect x="136.25" y="249.00" width="5.00" height="5.00" fill="#FF99CC"/>
<rect x="172.75" y="249.00" width="5.00" height="5.00" fill="#FF99CC"/>
<rect x="209.25" y="249.00" width="5.00" height="5.00" fill="#FF99CC"/>
<rect x="245.75" y="249.00" width="5.00" height="5.00" fill="#FF99CC"/>
<rect x="282.25" y="249.00" width="5.00" height="5.00" fill="#FF99CC"/>
<rect x="318.75" y="249.00" width="5.00" height="5.00" fill="#FF99CC"/>
<rect x="355.25" y="249.00" width="5.00" height="5.00" fill="#FF99CC"/>
<rect x="391.75" y="249.00" width="5.00" height="5.00" fill="#FF99CC"/>
<rect x="428.25" y="249.00" width="5.00" height="5.00" fill="#FF99CC"/>
<rect x="464.75" y="249.00" width="5.00" height="5.00" fill="#FF99CC"/>
<rect x="501.25" y="249.00" width="5.00" height="5.00" fill="#FF99CC"/>
<rect x="537.75" y="249.00" width="5.00" height="5.00" fill="#FF99CC"/>
<rect x="574.25" y="249.00" width="5.00" height="5.00" fill="#FF99CC"/>
<rect x="610.75" y="249.00" width="5.00" height="5.00" fill="#FF99CC"/>
<rect x="647.25" y="249.00" width="5.00" height="5.00" fill="#FF99CC"/>
<rect x="683.75" y="249.00" width="5.00" height="5.00" fill="#FF99CC"/>
<rect x="720.25" y="249.00" width="5.00" height="5.00" fill="#FF99CC"/>
<path d="M102.25 251.50 C108.33 251.50 126.58 251.50 138.75 251.50 C150.92 251.50 163.08 251.50 175.25 251.50 C187.42 251.50 199.58 251.50 211.75 251.50 C223.92 251.50 236.08 251.50 248.25 251.50 C260.42 251.50 272.58 251.50 284.75 251.50 C296.92 251.50 309.08 251.50 321.25 251.50 C333.42 251.50 345.58 251.50 357.75 251.50 C369.92 251.50 382.08 251.50 394.25 251.50 C406.42 251.50 418.58 251.50 430.75 251.50 C442.92 251.50 455.08 251.50 467.25 251.50 C479.42 251.50 491.58 251.50 503.75 251.50 C515.92 251.50 528.08 251.50 540.25 251.50 C552.42 251.50 564.58 251.50 576.75 251.50 C588.92 251.50 601.08 251.50 613.25 251.50 C625.42 251.50 637.58 251.50 649.75 251.50 C661.92 251.50 674.08 251.50 686.25 251.50 C698.42 251.50 716.67 251.50 722.75 251.50" stroke="#CC99FF" stroke-width="1"/>
<circle cx="102.25" cy="251.50" r="2.50" fill="#CC99FF"/>
<circle cx="138.75" cy="251.50" r="2.50" fill="#CC99FF"/>
<circle cx="175.25" cy="251.50" r="2.50" fill="#CC99FF"/>
<circle cx="211.75" cy="251.50" r="2.50" fill="#CC99FF"/>
<circle cx="248.25" cy="251.50" r="2.50" fill="#CC99FF"/>
<circle cx="284.75" cy="251.50" r="2.50" fill="#CC99FF"/>
<circle cx="321.25" cy="251.50" r="2.50" fill="#CC99FF"/>
<circle cx="357.75" cy="251.50" r="2.50" fill="#CC99FF"/>
<circle cx="394.25" cy="251.50" r="2.50" fill="#CC99FF"/>
<circle cx="430.75" cy="251.50" r="2.50" fill="#CC99FF"/>
<circle cx="467.25" cy="251.50" r="2.50" fill="#CC99FF"/>
<circle cx="503.75" cy="251.50" r="2.50" fill="#CC99FF"/>
<circle cx="540.25" cy="251.50" r="2.50" fill="#CC99FF"/>
<circle cx="576.75" cy="251.50" r="2.50" fill="#CC99FF"/>
<circle cx="613.25" cy="251.50" r="2.50" fill="#CC99FF"/>
<circle cx="649.75" cy="251.50" r="2.50" fill="#CC99FF"/>
<circle cx="686.25" cy="251.50" r="2.50" fill="#CC99FF"/>
<circle cx="722.75" cy="251.50" r="2.50" fill="#CC99FF"/>
<path d="M102.25 251.50 C108.33 251.50 126.58 251.50 138.75 251.50 C150.92 251.50 163.08 251.50 175.25 251.50 C187.42 251.50 199.58 251.50 211.75 251.50 C223.92 251.50 236.08 251.50 248.25 251.50 C260.42 251.50 272.58 251.50 284.75 251.50 C296.92 251.50 309.08 251.50 321.25 251.50 C333.42 251.50 345.58 251.50 357.75 251.50 C369.92 251.50 382.08 251.50 394.25 251.50 C406.42 251.50 418.58 251.50 430.75 251.50 C442.92 251.50 455.08 251.50 467.25 251.50 C479.42 251.50 491.58 251.50 503.75 251.50 C515.92 251.50 528.08 251.50 540.25 251.50 C552.42 251.50 564.58 251.50 576.75 251.50 C588.92 251.50 601.08 251.50 613.25 251.50 C625.42 251.50 637.58 251.50 649.75 251.50 C661.92 251.50 674.08 251.50 686.25 251.50 C698.42 251.50 716.67 251.50 722.75 251.50" stroke="#FFCC99" stroke-width="1"/>
<path d="M99.75 251.50 h5.00 M102.25 249.00 v5.00" stroke="#FFCC99" stroke-width="1.1" fill="none"/>
<path d="M136.25 251.50 h5.00 M138.75 249.00 v5.00" stroke="#FFCC99" stroke-width="1.1" fill="none"/>
<path d="M172.75 251.50 h5.00 M175.25 249.00 v5.00" stroke="#FFCC99" stroke-width="1.1" fill="none"/>
<path d="M209.25 251.50 h5.00 M211.75 249.00 v5.00" stroke="#FFCC99" stroke-width="1.1" fill="none"/>
<path d="M245.75 251.50 h5.00 M248.25 249.00 v5.00" stroke="#FFCC99" stroke-width="1.1" fill="none"/>
<path d="M282.25 251.50 h5.00 M284.75 249.00 v5.00" stroke="#FFCC99" stroke-width="1.1" fill="none"/>
<path d="M318.75 251.50 h5.00 M321.25 249.00 v5.00" stroke="#FFCC99" stroke-width="1.1" fill="none"/>
<path d="M355.25 251.50 h5.00 M357.75 249.00 v5.00" stroke="#FFCC99" stroke-width="1.1" fill="none"/>
<path d="M391.75 251.50 h5.00 M394.25 249.00 v5.00" stroke="#FFCC99" stroke-width="1.1" fill="none"/>
<path d="M428.25 251.50 h5.00 M430.75 249.00 v5.00" stroke="#FFCC99" stroke-width="1.1" fill="none"/>
<path d="M464.75 251.50 h5.00 M467.25 249.00 v5.00" stroke="#FFCC99" stroke-width="1.1" fill="none"/>
<path d="M501.25 251.50 h5.00 M503.75 249.00 v5.00" stroke="#FFCC99" stroke-width="1.1" fill="none"/>
<path d="M537.75 251.50 h5.00 M540.25 249.00 v5.00" stroke="#FFCC99" stroke-width="1.1" fill="none"/>
<path d="M574.25 251.50 h5.00 M576.75 249.00 v5.00" stroke="#FFCC99" stroke-width="1.1" fill="none"/>
<path d="M610.75 251.50 h5.00 M613.25 249.00 v5.00" stroke="#FFCC99" stroke-width="1.1" fill="none"/>
<path d="M647.25 251.50 h5.00 M649.75 249.00 v5.00" stroke="#FFCC99" stroke-width="1.1" fill="none"/>
<path d="M683.75 251.50 h5.00 M686.25 249.00 v5.00" stroke="#FFCC99" stroke-width="1.1" fill="none"/>
<path d="M720.25 251.50 h5.00 M722.75 249.00 v5.00" stroke="#FFCC99" stroke-width="1.1" fill="none"/>
<path d="M102.25 251.50 C108.33 251.50 126.58 251.50 138.75 251.50 C150.92 251.50 163.08 251.50 175.25 251.50 C187.42 251.50 199.58 251.50 211.75 251.50 C223.92 251.50 236.08 251.50 248.25 251.50 C260.42 251.50 272.58 251.50 284.75 251.50 C296.92 251.50 309.08 251.50 321.25 251.50 C333.42 251.50 345.58 251.50 357.75 251.50 C369.92 251.50 382.08 251.50 394.25 251.50 C406.42 251.50 418.58 251.50 430.75 251.50 C442.92 251.50 455.08 251.50 467.25 251.50 C479.42 251.50 491.58 251.50 503.75 251.50 C515.92 251.50 528.08 251.50 540.25 251.50 C552.42 251.50 564.58 251.50 576.75 251.50 C588.92 251.50 601.08 251.50 613.25 251.50 C625.42 251.50 637.58 251.50 649.75 251.50 C661.92 251.50 674.08 251.50 686.25 251.50 C698.42 251.50 716.67 251.50 722.75 251.50" stroke="#3366FF" stroke-width="1"/>
<rect x="99.75" y="250.50" width="5.00" height="2" fill="#3366FF"/>
<rect x="136.25" y="250.50" width="5.00" height="2" fill="#3366FF"/>
<rect x="172.75" y="250.50" width="5.00" height="2" fill="#3366FF"/>
<rect x="209.25" y="250.50" width="5.00" height="2" fill="#3366FF"/>
<rect x="245.75" y="250.50" width="5.00" height="2" fill="#3366FF"/>
<rect x="282.25" y="250.50" width="5.00" height="2" fill="#3366FF"/>
<rect x="318.75" y="250.50" width="5.00" height="2" fill="#3366FF"/>
<rect x="355.25" y="250.50" width="5.00" height="2" fill="#3366FF"/>
<rect x="391.75" y="250.50" width="5.00" height="2" fill="#3366FF"/>
<rect x="428.25" y="250.50" width="5.00" height="2" fill="#3366FF"/>
<rect x="464.75" y="250.50" width="5.00" height="2" fill="#3366FF"/>
<rect x="501.25" y="250.50" width="5.00" height="2" fill="#3366FF"/>
<rect x="537.75" y="250.50" width="5.00" height="2" fill="#3366FF"/>
<rect x="574.25" y="250.50" width="5.00" height="2" fill="#3366FF"/>
<rect x="610.75" y="250.50" width="5.00" height="2" fill="#3366FF"/>
<rect x="647.25" y="250.50" width="5.00" height="2" fill="#3366FF"/>
<rect x="683.75" y="250.50" width="5.00" height="2" fill="#3366FF"/>
<rect x="720.25" y="250.50" width="5.00" height="2" fill="#3366FF"/>
<path d="M102.25 251.50 C108.33 251.50 126.58 251.50 138.75 251.50 C150.92 251.50 163.08 251.50 175.25 251.50 C187.42 251.50 199.58 251.50 211.75 251.50 C223.92 251.50 236.08 251.50 248.25 251.50 C260.42 251.50 272.58 251.50 284.75 251.50 C296.92 251.50 309.08 251.50 321.25 251.50 C333.42 251.50 345.58 251.50 357.75 251.50 C369.92 251.50 382.08 251.50 394.25 251.50 C406.42 251.50 418.58 251.50 430.75 251.50 C442.92 251.50 455.08 251.50 467.25 251.50 C479.42 251.50 491.58 251.50 503.75 251.50 C515.92 251.50 528.08 251.50 540.25 251.50 C552.42 251.50 564.58 251.50 576.75 251.50 C588.92 251.50 601.08 251.50 613.25 251.50 C625.42 251.50 637.58 251.50 649.75 251.50 C661.92 251.50 674.08 251.50 686.25 251.50 C698.42 251.50 716.67 251.50 722.75 251.50" stroke="#33CCCC" stroke-width="1"/>
<rect x="99.75" y="250.50" width="5.00" height="2" fill="#33CCCC"/>
<rect x="136.25" y="250.50" width="5.00" height="2" fill="#33CCCC"/>
<rect x="172.75" y="250.50" width="5.00" height="2" fill="#33CCCC"/>
<rect x="209.25" y="250.50" width="5.00" height="2" fill="#33CCCC"/>
<rect x="245.75" y="250.50" width="5.00" height="2" fill="#33CCCC"/>
<rect x="282.25" y="250.50" width="5.00" height="2" fill="#33CCCC"/>
<rect x="318.75" y="250.50" width="5.00" height="2" fill="#33CCCC"/>
<rect x="355.25" y="250.50" width="5.00" height="2" fill="#33CCCC"/>
<rect x="391.75" y="250.50" width="5.00" height="2" fill="#33CCCC"/>
<rect x="428.25" y="250.50" width="5.00" height="2" fill="#33CCCC"/>
<rect x="464.75" y="250.50" width="5.00" height="2" fill="#33CCCC"/>
<rect x="501.25" y="250.50" width="5.00" height="2" fill="#33CCCC"/>
<rect x="537.75" y="250.50" width="5.00" height="2" fill="#33CCCC"/>
<rect x="574.25" y="250.50" width="5.00" height="2" fill="#33CCCC"/>
<rect x="610.75" y="250.50" width="5.00" height="2" fill="#33CCCC"/>
<rect x="647.25" y="250.50" width="5.00" height="2" fill="#33CCCC"/>
<rect x="683.75" y="250.50" width="5.00" height="2" fill="#33CCCC"/>
<rect x="720.25" y="250.50" width="5.00" height="2" fill="#33CCCC"/>
<path d="M102.25 251.50 C108.33 251.50 126.58 251.50 138.75 251.50 C150.92 251.50 163.08 251.50 175.25 251.50 C187.42 251.50 199.58 251.50 211.75 251.50 C223.92 251.50 236.08 251.50 248.25 251.50 C260.42 251.50 272.58 251.50 284.75 251.50 C296.92 251.50 309.08 251.50 321.25 251.50 C333.42 251.50 345.58 251.50 357.75 251.50 C369.92 251.50 382.08 251.50 394.25 251.50 C406.42 251.50 418.58 251.50 430.75 251.50 C442.92 251.50 455.08 251.50 467.25 251.50 C479.42 251.50 491.58 251.50 503.75 251.50 C515.92 251.50 528.08 251.50 540.25 251.50 C552.42 251.50 564.58 251.50 576.75 251.50 C588.92 251.50 601.08 251.50 613.25 251.50 C625.42 251.50 637.58 251.50 649.75 251.50 C661.92 251.50 674.08 251.50 686.25 251.50 C698.42 251.50 716.67 251.50 722.75 251.50" stroke="#99CC00" stroke-width="1"/>
<path d="M102.25 249.00 L104.75 251.50 L102.25 254.00 L99.75 251.50 Z" fill="#99CC00"/>
<path d="M138.75 249.00 L141.25 251.50 L138.75 254.00 L136.25 251.50 Z" fill="#99CC00"/>
<path d="M175.25 249.00 L177.75 251.50 L175.25 254.00 L172.75 251.50 Z" fill="#99CC00"/>
<path d="M211.75 249.00 L214.25 251.50 L211.75 254.00 L209.25 251.50 Z" fill="#99CC00"/>
<path d="M248.25 249.00 L250.75 251.50 L248.25 254.00 L245.75 251.50 Z" fill="#99CC00"/>
<path d="M284.75 249.00 L287.25 251.50 L284.75 254.00 L282.25 251.50 Z" fill="#99CC00"/>
<path d="M321.25 249.00 L323.75 251.50 L321.25 254.00 L318.75 251.50 Z" fill="#99CC00"/>
<path d="M357.75 249.00 L360.25 251.50 L357.75 254.00 L355.25 251.50 Z" fill="#99CC00"/>
<path d="M394.25 249.00 L396.75 251.50 L394.25 254.00 L391.75 251.50 Z" fill="#99CC00"/>
<path d="M430.75 249.00 L433.25 251.50 L430.75 254.00 L428.25 251.50 Z" fill="#99CC00"/>
<path d="M467.25 249.00 L469.75 251.50 L467.25 254.00 L464.75 251.50 Z" fill="#99CC00"/>
<path d="M503.75 249.00 L506.25 251.50 L503.75 254.00 L501.25 251.50 Z" fill="#99CC00"/>
<path d="M540.25 249.00 L542.75 251.50 L540.25 254.00 L537.75 251.50 Z" fill="#99CC00"/>
<path d="M576.75 249.00 L579.25 251.50 L576.75 254.00 L574.25 251.50 Z" fill="#99CC00"/>
<path d="M613.25 249.00 L615.75 251.50 L613.25 254.00 L610.75 251.50 Z" fill="#99CC00"/>
<path d="M649.75 249.00 L652.25 251.50 L649.75 254.00 L647.25 251.50 Z" fill="#99CC00"/>
<path d="M686.25 249.00 L688.75 251.50 L686.25 254.00 L683.75 251.50 Z" fill="#99CC00"/>
<path d="M722.75 249.00 L725.25 251.50 L722.75 254.00 L720.25 251.50 Z" fill="#99CC00"/>
<path d="M102.25 251.50 C108.33 251.50 126.58 251.50 138.75 251.50 C150.92 251.50 163.08 251.50 175.25 251.50 C187.42 251.50 199.58 251.50 211.75 251.50 C223.92 251.50 236.08 251.50 248.25 251.50 C260.42 251.50 272.58 251.50 284.75 251.50 C296.92 251.50 309.08 251.50 321.25 251.50 C333.42 251.50 345.58 251.50 357.75 251.50 C369.92 251.50 382.08 251.50 394.25 251.50 C406.42 251.50 418.58 251.50 430.75 251.50 C442.92 251.50 455.08 251.50 467.25 251.50 C479.42 251.50 491.58 251.50 503.75 251.50 C515.92 251.50 528.08 251.50 540.25 251.50 C552.42 251.50 564.58 251.50 576.75 251.50 C588.92 251.50 601.08 251.50 613.25 251.50 C625.42 251.50 637.58 251.50 649.75 251.50 C661.92 251.50 674.08 251.50 686.25 251.50 C698.42 251.50 716.67 251.50 722.75 251.50" stroke="#FFCC00" stroke-width="1"/>
<rect x="99.75" y="249.00" width="5.00" height="5.00" fill="#FFCC00"/>
<rect x="136.25" y="249.00" width="5.00" height="5.00" fill="#FFCC00"/>
<rect x="172.75" y="249.00" width="5.00" height="5.00" fill="#FFCC00"/>
<rect x="209.25" y="249.00" width="5.00" height="5.00" fill="#FFCC00"/>
<rect x="245.75" y="249.00" width="5.00" height="5.00" fill="#FFCC00"/>
<rect x="282.25" y="249.00" width="5.00" height="5.00" fill="#FFCC00"/>
<rect x="318.75" y="249.00" width="5.00" height="5.00" fill="#FFCC00"/>
<rect x="355.25" y="249.00" width="5.00" height="5.00" fill="#FFCC00"/>
<rect x="391.75" y="249.00" width="5.00" height="5.00" fill="#FFCC00"/>
<rect x="428.25" y="249.00" width="5.00" height="5.00" fill="#FFCC00"/>
<rect x="464.75" y="249.00" width="5.00" height="5.00" fill="#FFCC00"/>
<rect x="501.25" y="249.00" width="5.00" height="5.00" fill="#FFCC00"/>
<rect x="537.75" y="249.00" width="5.00" height="5.00" fill="#FFCC00"/>
<rect x="574.25" y="249.00" width="5.00" height="5.00" fill="#FFCC00"/>
<rect x="610.75" y="249.00" width="5.00" height="5.00" fill="#FFCC00"/>
<rect x="647.25" y="249.00" width="5.00" height="5.00" fill="#FFCC00"/>
<rect x="683.75" y="249.00" width="5.00" height="5.00" fill="#FFCC00"/>
<rect x="720.25" y="249.00" width="5.00" height="5.00" fill="#FFCC00"/>
<path d="M102.25 251.50 C108.33 251.50 126.58 251.50 138.75 251.50 C150.92 251.50 163.08 251.50 175.25 251.50 C187.42 251.50 199.58 251.50 211.75 251.50 C223.92 251.50 236.08 251.50 248.25 251.50 C260.42 251.50 272.58 251.50 284.75 251.50 C296.92 251.50 309.08 251.50 321.25 251.50 C333.42 251.50 345.58 251.50 357.75 251.50 C369.92 251.50 382.08 251.50 394.25 251.50 C406.42 251.50 418.58 251.50 430.75 251.50 C442.92 251.50 455.08 251.50 467.25 251.50 C479.42 251.50 491.58 251.50 503.75 251.50 C515.92 251.50 528.08 251.50 540.25 251.50 C552.42 251.50 564.58 251.50 576.75 251.50 C588.92 251.50 601.08 251.50 613.25 251.50 C625.42 251.50 637.58 251.50 649.75 251.50 C661.92 251.50 674.08 251.50 686.25 251.50 C698.42 251.50 716.67 251.50 722.75 251.50" stroke="#FF9900" stroke-width="1"/>
<path d="M102.25 248.50 L104.75 253.25 L99.75 253.25 Z" fill="#FF9900"/>
<path d="M138.75 248.50 L141.25 253.25 L136.25 253.25 Z" fill="#FF9900"/>
<path d="M175.25 248.50 L177.75 253.25 L172.75 253.25 Z" fill="#FF9900"/>
<path d="M211.75 248.50 L214.25 253.25 L209.25 253.25 Z" fill="#FF9900"/>
<path d="M248.25 248.50 L250.75 253.25 L245.75 253.25 Z" fill="#FF9900"/>
<path d="M284.75 248.50 L287.25 253.25 L282.25 253.25 Z" fill="#FF9900"/>
<path d="M321.25 248.50 L323.75 253.25 L318.75 253.25 Z" fill="#FF9900"/>
<path d="M357.75 248.50 L360.25 253.25 L355.25 253.25 Z" fill="#FF9900"/>
<path d="M394.25 248.50 L396.75 253.25 L391.75 253.25 Z" fill="#FF9900"/>
<path d="M430.75 248.50 L433.25 253.25 L428.25 253.25 Z" fill="#FF9900"/>
<path d="M467.25 248.50 L469.75 253.25 L464.75 253.25 Z" fill="#FF9900"/>
<path d="M503.75 248.50 L506.25 253.25 L501.25 253.25 Z" fill="#FF9900"/>
<path d="M540.25 248.50 L542.75 253.25 L537.75 253.25 Z" fill="#FF9900"/>
<path d="M576.75 248.50 L579.25 253.25 L574.25 253.25 Z" fill="#FF9900"/>
<path d="M613.25 248.50 L615.75 253.25 L610.75 253.25 Z" fill="#FF9900"/>
<path d="M649.75 248.50 L652.25 253.25 L647.25 253.25 Z" fill="#FF9900"/>
<path d="M686.25 248.50 L688.75 253.25 L683.75 253.25 Z" fill="#FF9900"/>
<path d="M722.75 248.50 L725.25 253.25 L720.25 253.25 Z" fill="#FF9900"/>
<path d="M102.25 251.50 C108.33 251.50 126.58 251.50 138.75 251.50 C150.92 251.50 163.08 251.50 175.25 251.50 C187.42 251.50 199.58 251.50 211.75 251.50 C223.92 251.50 236.08 251.50 248.25 251.50 C260.42 251.50 272.58 251.50 284.75 251.50 C296.92 251.50 309.08 251.50 321.25 251.50 C333.42 251.50 345.58 251.50 357.75 251.50 C369.92 251.50 382.08 251.50 394.25 251.50 C406.42 251.50 418.58 251.50 430.75 251.50 C442.92 251.50 455.08 251.50 467.25 251.50 C479.42 251.50 491.58 251.50 503.75 251.50 C515.92 251.50 528.08 251.50 540.25 251.50 C552.42 251.50 564.58 251.50 576.75 251.50 C588.92 251.50 601.08 251.50 613.25 251.50 C625.42 251.50 637.58 251.50 649.75 251.50 C661.92 251.50 674.08 251.50 686.25 251.50 C698.42 251.50 716.67 251.50 722.75 251.50" stroke="#FF6600" stroke-width="1"/>
<path d="M99.75 251.50 h5.00 M101.25 249.50 v4.00 M103.25 249.50 v4.00" stroke="#FF6600" stroke-width="1" fill="none"/>
<path d="M136.25 251.50 h5.00 M137.75 249.50 v4.00 M139.75 249.50 v4.00" stroke="#FF6600" stroke-width="1" fill="none"/>
<path d="M172.75 251.50 h5.00 M174.25 249.50 v4.00 M176.25 249.50 v4.00" stroke="#FF6600" stroke-width="1" fill="none"/>
<path d="M209.25 251.50 h5.00 M210.75 249.50 v4.00 M212.75 249.50 v4.00" stroke="#FF6600" stroke-width="1" fill="none"/>
<path d="M245.75 251.50 h5.00 M247.25 249.50 v4.00 M249.25 249.50 v4.00" stroke="#FF6600" stroke-width="1" fill="none"/>
<path d="M282.25 251.50 h5.00 M283.75 249.50 v4.00 M285.75 249.50 v4.00" stroke="#FF6600" stroke-width="1" fill="none"/>
<path d="M318.75 251.50 h5.00 M320.25 249.50 v4.00 M322.25 249.50 v4.00" stroke="#FF6600" stroke-width="1" fill="none"/>
<path d="M355.25 251.50 h5.00 M356.75 249.50 v4.00 M358.75 249.50 v4.00" stroke="#FF6600" stroke-width="1" fill="none"/>
<path d="M391.75 251.50 h5.00 M393.25 249.50 v4.00 M395.25 249.50 v4.00" stroke="#FF6600" stroke-width="1" fill="none"/>
<path d="M428.25 251.50 h5.00 M429.75 249.50 v4.00 M431.75 249.50 v4.00" stroke="#FF6600" stroke-width="1" fill="none"/>
<path d="M464.75 251.50 h5.00 M466.25 249.50 v4.00 M468.25 249.50 v4.00" stroke="#FF6600" stroke-width="1" fill="none"/>
<path d="M501.25 251.50 h5.00 M502.75 249.50 v4.00 M504.75 249.50 v4.00" stroke="#FF6600" stroke-width="1" fill="none"/>
<path d="M537.75 251.50 h5.00 M539.25 249.50 v4.00 M541.25 249.50 v4.00" stroke="#FF6600" stroke-width="1" fill="none"/>
<path d="M574.25 251.50 h5.00 M575.75 249.50 v4.00 M577.75 249.50 v4.00" stroke="#FF6600" stroke-width="1" fill="none"/>
<path d="M610.75 251.50 h5.00 M612.25 249.50 v4.00 M614.25 249.50 v4.00" stroke="#FF6600" stroke-width="1" fill="none"/>
<path d="M647.25 251.50 h5.00 M648.75 249.50 v4.00 M650.75 249.50 v4.00" stroke="#FF6600" stroke-width="1" fill="none"/>
<path d="M683.75 251.50 h5.00 M685.25 249.50 v4.00 M687.25 249.50 v4.00" stroke="#FF6600" stroke-width="1" fill="none"/>
<path d="M720.25 251.50 h5.00 M721.75 249.50 v4.00 M723.75 249.50 v4.00" stroke="#FF6600" stroke-width="1" fill="none"/>
<path d="M102.25 251.50 C108.33 251.50 126.58 251.50 138.75 251.50 C150.92 251.50 163.08 251.50 175.25 251.50 C187.42 251.50 199.58 251.50 211.75 251.50 C223.92 251.50 236.08 251.50 248.25 251.50 C260.42 251.50 272.58 251.50 284.75 251.50 C296.92 251.50 309.08 251.50 321.25 251.50 C333.42 251.50 345.58 251.50 357.75 251.50 C369.92 251.50 382.08 251.50 394.25 251.50 C406.42 251.50 418.58 251.50 430.75 251.50 C442.92 251.50 455.08 251.50 467.25 251.50 C479.42 251.50 491.58 251.50 503.75 251.50 C515.92 251.50 528.08 251.50 540.25 251.50 C552.42 251.50 564.58 251.50 576.75 251.50 C588.92 251.50 601.08 251.50 613.25 251.50 C625.42 251.50 637.58 251.50 649.75 251.50 C661.92 251.50 674.08 251.50 686.25 251.50 C698.42 251.50 716.67 251.50 722.75 251.50" stroke="#666699" stroke-width="1"/>
<path d="M100.25 251.50 h4.00 M101.25 250.00 v3.00 M103.25 250.00 v3.00" stroke="#666699" stroke-width="1" fill="none"/>
<path d="M136.75 251.50 h4.00 M137.75 250.00 v3.00 M139.75 250.00 v3.00" stroke="#666699" stroke-width="1" fill="none"/>
<path d="M173.25 251.50 h4.00 M174.25 250.00 v3.00 M176.25 250.00 v3.00" stroke="#666699" stroke-width="1" fill="none"/>
<path d="M209.75 251.50 h4.00 M210.75 250.00 v3.00 M212.75 250.00 v3.00" stroke="#666699" stroke-width="1" fill="none"/>
<path d="M246.25 251.50 h4.00 M247.25 250.00 v3.00 M249.25 250.00 v3.00" stroke="#666699" stroke-width="1" fill="none"/>
<path d="M282.75 251.50 h4.00 M283.75 250.00 v3.00 M285.75 250.00 v3.00" stroke="#666699" stroke-width="1" fill="none"/>
<path d="M319.25 251.50 h4.00 M320.25 250.00 v3.00 M322.25 250.00 v3.00" stroke="#666699" stroke-width="1" fill="none"/>
<path d="M355.75 251.50 h4.00 M356.75 250.00 v3.00 M358.75 250.00 v3.00" stroke="#666699" stroke-width="1" fill="none"/>
<path d="M392.25 251.50 h4.00 M393.25 250.00 v3.00 M395.25 250.00 v3.00" stroke="#666699" stroke-width="1" fill="none"/>
<path d="M428.75 251.50 h4.00 M429.75 250.00 v3.00 M431.75 250.00 v3.00" stroke="#666699" stroke-width="1" fill="none"/>
<path d="M465.25 251.50 h4.00 M466.25 250.00 v3.00 M468.25 250.00 v3.00" stroke="#666699" stroke-width="1" fill="none"/>
<path d="M501.75 251.50 h4.00 M502.75 250.00 v3.00 M504.75 250.00 v3.00" stroke="#666699" stroke-width="1" fill="none"/>
<path d="M538.25 251.50 h4.00 M539.25 250.00 v3.00 M541.25 250.00 v3.00" stroke="#666699" stroke-width="1" fill="none"/>
<path d="M574.75 251.50 h4.00 M575.75 250.00 v3.00 M577.75 250.00 v3.00" stroke="#666699" stroke-width="1" fill="none"/>
<path d="M611.25 251.50 h4.00 M612.25 250.00 v3.00 M614.25 250.00 v3.00" stroke="#666699" stroke-width="1" fill="none"/>
<path d="M647.75 251.50 h4.00 M648.75 250.00 v3.00 M650.75 250.00 v3.00" stroke="#666699" stroke-width="1" fill="none"/>
<path d="M684.25 251.50 h4.00 M685.25 250.00 v3.00 M687.25 250.00 v3.00" stroke="#666699" stroke-width="1" fill="none"/>
<path d="M720.75 251.50 h4.00 M721.75 250.00 v3.00 M723.75 250.00 v3.00" stroke="#666699" stroke-width="1" fill="none"/>
<path d="M102.25 251.50 C108.33 251.50 126.58 249.12 138.75 251.50 C150.92 253.88 163.08 263.42 175.25 265.81 C187.42 268.19 199.58 263.69 211.75 265.81 C223.92 267.92 236.08 279.65 248.25 278.50 C260.42 277.35 272.58 262.17 284.75 258.90 C296.92 255.63 309.08 256.75 321.25 258.90 C333.42 261.05 345.58 270.70 357.75 271.79 C369.92 272.89 382.08 265.20 394.25 265.49 C406.42 265.78 418.58 278.01 430.75 273.52 C442.92 269.03 455.08 242.10 467.25 238.55 C479.42 235.00 491.58 249.94 503.75 252.22 C515.92 254.50 528.08 252.22 540.25 252.22 C552.42 252.22 564.58 252.22 576.75 252.22 C588.92 252.22 601.08 252.22 613.25 252.22 C625.42 252.22 637.58 252.22 649.75 252.22 C661.92 252.22 674.08 252.22 686.25 252.22 C698.42 252.22 716.67 252.22 722.75 252.22" stroke="#969696" stroke-width="1"/>
<circle cx="102.25" cy="251.50" r="2.50" fill="#969696"/>
<circle cx="138.75" cy="251.50" r="2.50" fill="#969696"/>
<circle cx="175.25" cy="265.81" r="2.50" fill="#969696"/>
<circle cx="211.75" cy="265.81" r="2.50" fill="#969696"/>
<circle cx="248.25" cy="278.50" r="2.50" fill="#969696"/>
<circle cx="284.75" cy="258.90" r="2.50" fill="#969696"/>
<circle cx="321.25" cy="258.90" r="2.50" fill="#969696"/>
<circle cx="357.75" cy="271.79" r="2.50" fill="#969696"/>
<circle cx="394.25" cy="265.49" r="2.50" fill="#969696"/>
<circle cx="430.75" cy="273.52" r="2.50" fill="#969696"/>
<circle cx="467.25" cy="238.55" r="2.50" fill="#969696"/>
<circle cx="503.75" cy="252.22" r="2.50" fill="#969696"/>
<circle cx="540.25" cy="252.22" r="2.50" fill="#969696"/>
<circle cx="576.75" cy="252.22" r="2.50" fill="#969696"/>
<circle cx="613.25" cy="252.22" r="2.50" fill="#969696"/>
<circle cx="649.75" cy="252.22" r="2.50" fill="#969696"/>
<circle cx="686.25" cy="252.22" r="2.50" fill="#969696"/>
<circle cx="722.75" cy="252.22" r="2.50" fill="#969696"/>
<path d="M102.25 251.50 C108.33 251.50 126.58 252.75 138.75 251.50 C150.92 250.25 163.08 247.11 175.25 244.02 C187.42 240.92 199.58 239.27 211.75 232.93 C223.92 226.60 236.08 210.65 248.25 206.02 C260.42 201.39 272.58 205.30 284.75 205.16 C296.92 205.01 309.08 205.11 321.25 205.16 C333.42 205.20 345.58 205.39 357.75 205.44 C369.92 205.49 382.08 205.44 394.25 205.44 C406.42 205.44 418.58 201.12 430.75 205.44 C442.92 209.76 455.08 226.96 467.25 231.35 C479.42 235.74 491.58 231.81 503.75 231.81 C515.92 231.81 528.08 231.44 540.25 231.35 C552.42 231.26 564.58 231.53 576.75 231.29 C588.92 231.05 601.08 226.54 613.25 229.91 C625.42 233.28 637.58 247.48 649.75 251.50 C661.92 255.52 674.08 253.86 686.25 254.00 C698.42 254.15 716.67 252.64 722.75 252.36" stroke="#008000" stroke-width="1"/>
<path d="M98.75 251.50 h7.00 M102.25 248.00 v7.00" stroke="#008000" stroke-width="1.1" fill="none"/>
<path d="M135.25 251.50 h7.00 M138.75 248.00 v7.00" stroke="#008000" stroke-width="1.1" fill="none"/>
<path d="M171.75 244.02 h7.00 M175.25 240.52 v7.00" stroke="#008000" stroke-width="1.1" fill="none"/>
<path d="M208.25 232.93 h7.00 M211.75 229.43 v7.00" stroke="#008000" stroke-width="1.1" fill="none"/>
<path d="M244.75 206.02 h7.00 M248.25 202.52 v7.00" stroke="#008000" stroke-width="1.1" fill="none"/>
<path d="M281.25 205.16 h7.00 M284.75 201.66 v7.00" stroke="#008000" stroke-width="1.1" fill="none"/>
<path d="M317.75 205.16 h7.00 M321.25 201.66 v7.00" stroke="#008000" stroke-width="1.1" fill="none"/>
<path d="M354.25 205.44 h7.00 M357.75 201.94 v7.00" stroke="#008000" stroke-width="1.1" fill="none"/>
<path d="M390.75 205.44 h7.00 M394.25 201.94 v7.00" stroke="#008000" stroke-width="1.1" fill="none"/>
<path d="M427.25 205.44 h7.00 M430.75 201.94 v7.00" stroke="#008000" stroke-width="1.1" fill="none"/>
<path d="M463.75 231.35 h7.00 M467.25 227.85 v7.00" stroke="#008000" stroke-width="1.1" fill="none"/>
<path d="M500.25 231.81 h7.00 M503.75 228.31 v7.00" stroke="#008000" stroke-width="1.1" fill="none"/>
<path d="M536.75 231.35 h7.00 M540.25 227.85 v7.00" stroke="#008000" stroke-width="1.1" fill="none"/>
<path d="M573.25 231.29 h7.00 M576.75 227.79 v7.00" stroke="#008000" stroke-width="1.1" fill="none"/>
<path d="M609.75 229.91 h7.00 M613.25 226.41 v7.00" stroke="#008000" stroke-width="1.1" fill="none"/>
<path d="M646.25 251.50 h7.00 M649.75 248.00 v7.00" stroke="#008000" stroke-width="1.1" fill="none"/>
<path d="M682.75 254.00 h7.00 M686.25 250.50 v7.00" stroke="#008000" stroke-width="1.1" fill="none"/>
<path d="M719.25 252.36 h7.00 M722.75 248.86 v7.00" stroke="#008000" stroke-width="1.1" fill="none"/>
<path d="M211.75 251.50 C217.83 248.43 236.08 237.90 248.25 233.11 C260.42 228.31 272.58 223.53 284.75 222.71 C296.92 221.89 309.08 222.09 321.25 228.18 C333.42 234.28 345.58 253.06 357.75 259.30 C369.92 265.54 382.08 266.19 394.25 265.61 C406.42 265.02 418.58 251.43 430.75 255.82 C442.92 260.21 455.08 291.08 467.25 291.94 C479.42 292.81 491.58 266.11 503.75 261.00 C515.92 255.89 528.08 259.59 540.25 261.29 C552.42 262.99 564.58 268.56 576.75 271.19 C588.92 273.82 601.08 279.94 613.25 277.09 C625.42 274.24 637.58 260.47 649.75 254.09 C661.92 247.71 674.08 238.74 686.25 238.83 C698.42 238.93 716.67 252.03 722.75 254.67" stroke="#339966" stroke-width="1"/>
<rect x="100.25" y="250.50" width="4.00" height="2" fill="#339966"/>
<rect x="209.75" y="250.50" width="4.00" height="2" fill="#339966"/>
<rect x="246.25" y="232.11" width="4.00" height="2" fill="#339966"/>
<rect x="282.75" y="221.71" width="4.00" height="2" fill="#339966"/>
<rect x="319.25" y="227.18" width="4.00" height="2" fill="#339966"/>
<rect x="355.75" y="258.30" width="4.00" height="2" fill="#339966"/>
<rect x="392.25" y="264.61" width="4.00" height="2" fill="#339966"/>
<rect x="428.75" y="254.82" width="4.00" height="2" fill="#339966"/>
<rect x="465.25" y="290.94" width="4.00" height="2" fill="#339966"/>
<rect x="501.75" y="260.00" width="4.00" height="2" fill="#339966"/>
<rect x="538.25" y="260.29" width="4.00" height="2" fill="#339966"/>
<rect x="574.75" y="270.19" width="4.00" height="2" fill="#339966"/>
<rect x="611.25" y="276.09" width="4.00" height="2" fill="#339966"/>
<rect x="647.75" y="253.09" width="4.00" height="2" fill="#339966"/>
<rect x="684.25" y="237.83" width="4.00" height="2" fill="#339966"/>
<rect x="720.75" y="253.67" width="4.00" height="2" fill="#339966"/>
<path d="M576.75 251.50 C582.83 251.50 601.08 251.07 613.25 251.50 C625.42 251.93 637.58 253.08 649.75 254.09 C661.92 255.10 674.08 256.97 686.25 257.55 C698.42 258.12 716.67 257.55 722.75 257.55" stroke="#003300" stroke-width="1"/>
<rect x="99.75" y="250.50" width="5.00" height="2" fill="#003300"/>
<rect x="574.25" y="250.50" width="5.00" height="2" fill="#003300"/>
<rect x="610.75" y="250.50" width="5.00" height="2" fill="#003300"/>
<rect x="647.25" y="253.09" width="5.00" height="2" fill="#003300"/>
<rect x="683.75" y="256.55" width="5.00" height="2" fill="#003300"/>
<rect x="720.25" y="256.55" width="5.00" height="2" fill="#003300"/>
<path d="M211.75 251.50 C217.83 257.71 236.08 282.54 248.25 288.78 C260.42 295.01 272.58 288.03 284.75 288.92 C296.92 289.81 309.08 292.81 321.25 294.10 C333.42 295.40 345.58 296.29 357.75 296.69 C369.92 297.10 382.08 296.55 394.25 296.55 C406.42 296.55 418.58 296.65 430.75 296.69 C442.92 296.74 455.08 296.79 467.25 296.81 C479.42 296.83 491.58 296.81 503.75 296.81 C515.92 296.81 528.08 295.74 540.25 296.81 C552.42 297.87 564.58 302.13 576.75 303.20 C588.92 304.26 601.08 303.20 613.25 303.20 C625.42 303.20 637.58 303.20 649.75 303.20 C661.92 303.20 674.08 303.20 686.25 303.20 C698.42 303.20 716.67 303.20 722.75 303.20" stroke="#3366FF" stroke-width="1"/>
<path d="M102.25 246.90 L106.00 254.47 L98.50 254.47 Z" fill="none" stroke="#3366FF" stroke-width="1.1"/>
<path d="M211.75 246.90 L215.50 254.47 L208.00 254.47 Z" fill="none" stroke="#3366FF" stroke-width="1.1"/>
<path d="M248.25 284.18 L252.00 291.75 L244.50 291.75 Z" fill="none" stroke="#3366FF" stroke-width="1.1"/>
<path d="M284.75 284.32 L288.50 291.90 L281.00 291.90 Z" fill="none" stroke="#3366FF" stroke-width="1.1"/>
<path d="M321.25 289.50 L325.00 297.08 L317.50 297.08 Z" fill="none" stroke="#3366FF" stroke-width="1.1"/>
<path d="M357.75 292.09 L361.50 299.67 L354.00 299.67 Z" fill="none" stroke="#3366FF" stroke-width="1.1"/>
<path d="M394.25 291.95 L398.00 299.52 L390.50 299.52 Z" fill="none" stroke="#3366FF" stroke-width="1.1"/>
<path d="M430.75 292.09 L434.50 299.67 L427.00 299.67 Z" fill="none" stroke="#3366FF" stroke-width="1.1"/>
<path d="M467.25 292.21 L471.00 299.78 L463.50 299.78 Z" fill="none" stroke="#3366FF" stroke-width="1.1"/>
<path d="M503.75 292.21 L507.50 299.78 L500.00 299.78 Z" fill="none" stroke="#3366FF" stroke-width="1.1"/>
<path d="M540.25 292.21 L544.00 299.78 L536.50 299.78 Z" fill="none" stroke="#3366FF" stroke-width="1.1"/>
<path d="M576.75 298.60 L580.50 306.17 L573.00 306.17 Z" fill="none" stroke="#3366FF" stroke-width="1.1"/>
<path d="M613.25 298.60 L617.00 306.17 L609.50 306.17 Z" fill="none" stroke="#3366FF" stroke-width="1.1"/>
<path d="M649.75 298.60 L653.50 306.17 L646.00 306.17 Z" fill="none" stroke="#3366FF" stroke-width="1.1"/>
<path d="M686.25 298.60 L690.00 306.17 L682.50 306.17 Z" fill="none" stroke="#3366FF" stroke-width="1.1"/>
<path d="M722.75 298.60 L726.50 306.17 L719.00 306.17 Z" fill="none" stroke="#3366FF" stroke-width="1.1"/>
<path d="M211.75 251.50 C217.83 248.83 236.08 241.52 248.25 235.50 C260.42 229.47 272.58 218.73 284.75 215.37 C296.92 212.02 309.08 212.02 321.25 215.37 C333.42 218.73 345.58 232.09 357.75 235.50 C369.92 238.90 382.08 235.02 394.25 235.81 C406.42 236.60 418.58 234.92 430.75 240.22 C442.92 245.51 455.08 258.05 467.25 267.56 C479.42 277.07 491.58 292.29 503.75 297.27 C515.92 302.24 528.08 298.69 540.25 297.41 C552.42 296.14 564.58 292.08 576.75 289.61 C588.92 287.14 601.08 279.77 613.25 282.59 C625.42 285.40 637.58 300.09 649.75 306.51 C661.92 312.93 674.08 321.54 686.25 321.10 C698.42 320.67 716.67 306.76 722.75 303.89" stroke="#993300" stroke-width="1"/>
<rect x="99.75" y="249.00" width="5.00" height="5.00" fill="#993300"/>
<rect x="209.25" y="249.00" width="5.00" height="5.00" fill="#993300"/>
<rect x="245.75" y="233.00" width="5.00" height="5.00" fill="#993300"/>
<rect x="282.25" y="212.87" width="5.00" height="5.00" fill="#993300"/>
<rect x="318.75" y="212.87" width="5.00" height="5.00" fill="#993300"/>
<rect x="355.25" y="233.00" width="5.00" height="5.00" fill="#993300"/>
<rect x="391.75" y="233.31" width="5.00" height="5.00" fill="#993300"/>
<rect x="428.25" y="237.72" width="5.00" height="5.00" fill="#993300"/>
<rect x="464.75" y="265.06" width="5.00" height="5.00" fill="#993300"/>
<rect x="501.25" y="294.77" width="5.00" height="5.00" fill="#993300"/>
<rect x="537.75" y="294.91" width="5.00" height="5.00" fill="#993300"/>
<rect x="574.25" y="287.11" width="5.00" height="5.00" fill="#993300"/>
<rect x="610.75" y="280.09" width="5.00" height="5.00" fill="#993300"/>
<rect x="647.25" y="304.01" width="5.00" height="5.00" fill="#993300"/>
<rect x="683.75" y="318.60" width="5.00" height="5.00" fill="#993300"/>
<rect x="720.25" y="301.39" width="5.00" height="5.00" fill="#993300"/>
<path d="M430.75 253.31 C436.83 254.26 455.08 248.97 467.25 258.98 C479.42 269.00 491.58 304.39 503.75 313.39 C515.92 322.39 528.08 314.57 540.25 312.99 C552.42 311.40 564.58 306.59 576.75 303.89 C588.92 301.19 601.08 293.94 613.25 296.81 C625.42 299.68 637.58 314.52 649.75 321.10 C661.92 327.69 674.08 336.57 686.25 336.30 C698.42 336.03 716.67 322.29 722.75 319.49" stroke="#993366" stroke-width="1"/>
<path d="M102.25 245.50 L107.25 255.00 L97.25 255.00 Z" fill="#993366"/>
<path d="M430.75 247.31 L435.75 256.81 L425.75 256.81 Z" fill="#993366"/>
<path d="M467.25 252.98 L472.25 262.48 L462.25 262.48 Z" fill="#993366"/>
<path d="M503.75 307.39 L508.75 316.89 L498.75 316.89 Z" fill="#993366"/>
<path d="M540.25 306.99 L545.25 316.49 L535.25 316.49 Z" fill="#993366"/>
<path d="M576.75 297.89 L581.75 307.39 L571.75 307.39 Z" fill="#993366"/>
<path d="M613.25 290.81 L618.25 300.31 L608.25 300.31 Z" fill="#993366"/>
<path d="M649.75 315.10 L654.75 324.60 L644.75 324.60 Z" fill="#993366"/>
<path d="M686.25 330.30 L691.25 339.80 L681.25 339.80 Z" fill="#993366"/>
<path d="M722.75 313.49 L727.75 322.99 L717.75 322.99 Z" fill="#993366"/>
<path d="M211.75 251.50 C217.83 252.97 236.08 255.64 248.25 260.31 C260.42 264.98 272.58 276.31 284.75 279.51 C296.92 282.71 309.08 281.69 321.25 279.51 C333.42 277.33 345.58 267.41 357.75 266.41 C369.92 265.41 382.08 273.74 394.25 273.52 C406.42 273.30 418.58 260.77 430.75 265.09 C442.92 269.40 455.08 288.64 467.25 299.43 C479.42 310.21 491.58 320.95 503.75 329.80 C515.92 338.64 528.08 347.48 540.25 352.51 C552.42 357.54 564.58 357.49 576.75 359.99 C588.92 362.49 601.08 370.21 613.25 367.51 C625.42 364.81 637.58 350.29 649.75 343.79 C661.92 337.29 674.08 328.23 686.25 328.50 C698.42 328.77 716.67 342.58 722.75 345.40" stroke="#FF0000" stroke-width="1"/>
<circle cx="102.25" cy="251.50" r="3.00" fill="none" stroke="#FF0000" stroke-width="1"/>
<circle cx="211.75" cy="251.50" r="3.00" fill="none" stroke="#FF0000" stroke-width="1"/>
<circle cx="248.25" cy="260.31" r="3.00" fill="none" stroke="#FF0000" stroke-width="1"/>
<circle cx="284.75" cy="279.51" r="3.00" fill="none" stroke="#FF0000" stroke-width="1"/>
<circle cx="321.25" cy="279.51" r="3.00" fill="none" stroke="#FF0000" stroke-width="1"/>
<circle cx="357.75" cy="266.41" r="3.00" fill="none" stroke="#FF0000" stroke-width="1"/>
<circle cx="394.25" cy="273.52" r="3.00" fill="none" stroke="#FF0000" stroke-width="1"/>
<circle cx="430.75" cy="265.09" r="3.00" fill="none" stroke="#FF0000" stroke-width="1"/>
<circle cx="467.25" cy="299.43" r="3.00" fill="none" stroke="#FF0000" stroke-width="1"/>
<circle cx="503.75" cy="329.80" r="3.00" fill="none" stroke="#FF0000" stroke-width="1"/>
<circle cx="540.25" cy="352.51" r="3.00" fill="none" stroke="#FF0000" stroke-width="1"/>
<circle cx="576.75" cy="359.99" r="3.00" fill="none" stroke="#FF0000" stroke-width="1"/>
<circle cx="613.25" cy="367.51" r="3.00" fill="none" stroke="#FF0000" stroke-width="1"/>
<circle cx="649.75" cy="343.79" r="3.00" fill="none" stroke="#FF0000" stroke-width="1"/>
<circle cx="686.25" cy="328.50" r="3.00" fill="none" stroke="#FF0000" stroke-width="1"/>
<circle cx="722.75" cy="345.40" r="3.00" fill="none" stroke="#FF0000" stroke-width="1"/>
<path d="M102.25 251.50 C108.33 251.50 126.58 247.57 138.75 251.50 C150.92 255.43 163.08 269.11 175.25 275.10 C187.42 281.10 199.58 277.50 211.75 287.48 C223.92 297.46 236.08 329.51 248.25 334.98 C260.42 340.45 272.58 323.34 284.75 320.30 C296.92 317.25 309.08 315.13 321.25 316.70 C333.42 318.27 345.58 328.56 357.75 329.71 C369.92 330.86 382.08 321.31 394.25 323.61 C406.42 325.91 418.58 334.43 430.75 343.50 C442.92 352.57 455.08 367.25 467.25 378.01 C479.42 388.78 491.58 403.18 503.75 408.09 C515.92 413.01 528.08 408.93 540.25 407.52 C552.42 406.11 564.58 401.99 576.75 399.63 C588.92 397.27 601.08 390.31 613.25 393.36 C625.42 396.40 637.58 411.31 649.75 417.88 C661.92 424.45 674.08 433.22 686.25 432.79 C698.42 432.36 716.67 418.21 722.75 415.29" stroke="#000000" stroke-width="2"/>
<circle cx="102.25" cy="251.50" r="2.75" fill="none" stroke="#000000" stroke-width="1"/>
<circle cx="138.75" cy="251.50" r="2.75" fill="none" stroke="#000000" stroke-width="1"/>
<circle cx="175.25" cy="275.10" r="2.75" fill="none" stroke="#000000" stroke-width="1"/>
<circle cx="211.75" cy="287.48" r="2.75" fill="none" stroke="#000000" stroke-width="1"/>
<circle cx="248.25" cy="334.98" r="2.75" fill="none" stroke="#000000" stroke-width="1"/>
<circle cx="284.75" cy="320.30" r="2.75" fill="none" stroke="#000000" stroke-width="1"/>
<circle cx="321.25" cy="316.70" r="2.75" fill="none" stroke="#000000" stroke-width="1"/>
<circle cx="357.75" cy="329.71" r="2.75" fill="none" stroke="#000000" stroke-width="1"/>
<circle cx="394.25" cy="323.61" r="2.75" fill="none" stroke="#000000" stroke-width="1"/>
<circle cx="430.75" cy="343.50" r="2.75" fill="none" stroke="#000000" stroke-width="1"/>
<circle cx="467.25" cy="378.01" r="2.75" fill="none" stroke="#000000" stroke-width="1"/>
<circle cx="503.75" cy="408.09" r="2.75" fill="none" stroke="#000000" stroke-width="1"/>
<circle cx="540.25" cy="407.52" r="2.75" fill="none" stroke="#000000" stroke-width="1"/>
<circle cx="576.75" cy="399.63" r="2.75" fill="none" stroke="#000000" stroke-width="1"/>
<circle cx="613.25" cy="393.36" r="2.75" fill="none" stroke="#000000" stroke-width="1"/>
<circle cx="649.75" cy="417.88" r="2.75" fill="none" stroke="#000000" stroke-width="1"/>
<circle cx="686.25" cy="432.79" r="2.75" fill="none" stroke="#000000" stroke-width="1"/>
<circle cx="722.75" cy="415.29" r="2.75" fill="none" stroke="#000000" stroke-width="1"/>
</g>
<rect x="753.5" y="2.5" width="139" height="532" fill="#fff" stroke="#000" stroke-width="1" shape-rendering="crispEdges"/>
<g font-size="8" fill="#000">
<line x1="784" y1="10.00" x2="804" y2="10.00" stroke="#000080" stroke-width="2" shape-rendering="crispEdges"/>
<g transform="translate(794.5 10.00) scale(0.75)"><circle cx="0.00" cy="0.00" r="2.75" fill="none" stroke="#000080" stroke-width="1"/></g>
<text transform="translate(807 12.50) scale(1 1.1)" stroke="#000" stroke-width="0.35">Osiris</text>
<line x1="784" y1="25.50" x2="804" y2="25.50" stroke="#FF00FF" stroke-width="1" shape-rendering="crispEdges"/>
<g transform="translate(794.5 25.50) scale(0.75)"><rect x="-3.25" y="-3.25" width="6.50" height="6.50" fill="none" stroke="#FF00FF" stroke-width="1.1"/></g>
<text transform="translate(807 28.50) scale(1 1.1)" stroke="#000" stroke-width="0.35">Leon</text>
<line x1="784" y1="42.50" x2="804" y2="42.50" stroke="#FF9900" stroke-width="1" shape-rendering="crispEdges"/>
<g transform="translate(794.5 42.50) scale(0.75)"><path d="M0.00 -3.30 L2.75 1.92 L-2.75 1.92 Z" fill="#FF6600"/></g>
<text transform="translate(807 45.50) scale(1 1.1)" stroke="#000" stroke-width="0.35">tirant</text>
<line x1="784" y1="58.50" x2="804" y2="58.50" stroke="#333399" stroke-width="1" shape-rendering="crispEdges"/>
<g transform="translate(794.5 58.50) scale(0.75)"><path d="M0.00 -2.00 L2.00 0.00 L0.00 2.00 L-2.00 0.00 Z" fill="#333399"/></g>
<text transform="translate(807 61.50) scale(1 1.1)" stroke="#000" stroke-width="0.35">itrade</text>
<line x1="784" y1="75.50" x2="804" y2="75.50" stroke="#800080" stroke-width="1" shape-rendering="crispEdges"/>
<g transform="translate(794.5 75.50) scale(0.75)"><rect x="-2.00" y="-2.00" width="4.00" height="4.00" fill="#800080"/></g>
<text transform="translate(807 78.50) scale(1 1.1)" stroke="#000" stroke-width="0.35">bifidus</text>
<line x1="784" y1="92.00" x2="804" y2="92.00" stroke="#008000" stroke-width="2" shape-rendering="crispEdges"/>
<g transform="translate(794.5 92.00) scale(0.75)"><circle cx="0.00" cy="0.00" r="3.25" fill="#008000"/></g>
<text transform="translate(807 94.50) scale(1 1.1)" stroke="#000" stroke-width="0.35">PipSpirit</text>
<line x1="784" y1="108.50" x2="804" y2="108.50" stroke="#0000FF" stroke-width="1" shape-rendering="crispEdges"/>
<g transform="translate(794.5 108.50) scale(0.75)"><path d="M-3.50 0.00 h7.00 M0.00 -3.50 v7.00" stroke="#0000FF" stroke-width="1.1" fill="none"/></g>
<text transform="translate(807 111.50) scale(1 1.1)" stroke="#000" stroke-width="0.35">Optiondreamer</text>
<line x1="784" y1="125.50" x2="804" y2="125.50" stroke="#0000FF" stroke-width="1" shape-rendering="crispEdges"/>
<g transform="translate(794.5 125.50) scale(0.75)"><rect x="-2.50" y="-1.00" width="5.00" height="2" fill="#0000FF"/></g>
<text transform="translate(807 128.50) scale(1 1.1)" stroke="#000" stroke-width="0.35">HG_80</text>
<line x1="784" y1="141.50" x2="804" y2="141.50" stroke="#00CCFF" stroke-width="1" shape-rendering="crispEdges"/>
<g transform="translate(794.5 141.50) scale(0.75)"><rect x="-2.50" y="-1.00" width="5.00" height="2" fill="#00CCFF"/></g>
<text transform="translate(807 144.50) scale(1 1.1)" stroke="#000" stroke-width="0.35">smaasax</text>
<line x1="784" y1="158.50" x2="804" y2="158.50" stroke="#333333" stroke-width="1" shape-rendering="crispEdges"/>
<g transform="translate(794.5 158.50) scale(0.75)"><path d="M0.00 -3.00 L3.00 0.00 L0.00 3.00 L-3.00 0.00 Z" fill="#333333"/></g>
<text transform="translate(807 161.50) scale(1 1.1)" stroke="#000" stroke-width="0.35">dasziel</text>
<line x1="784" y1="174.50" x2="804" y2="174.50" stroke="#CCFFCC" stroke-width="1" shape-rendering="crispEdges"/>
<g transform="translate(794.5 174.50) scale(0.75)"><rect x="-2.50" y="-2.50" width="5.00" height="5.00" fill="#CCFFCC"/></g>
<text transform="translate(807 177.50) scale(1 1.1)" stroke="#000" stroke-width="0.35">BB</text>
<line x1="784" y1="191.50" x2="804" y2="191.50" stroke="#FFFF99" stroke-width="1" shape-rendering="crispEdges"/>
<g transform="translate(794.5 191.50) scale(0.75)"><path d="M0.00 -3.00 L2.50 1.75 L-2.50 1.75 Z" fill="#FFFF99"/></g>
<text transform="translate(807 194.50) scale(1 1.1)" stroke="#000" stroke-width="0.35">calamar</text>
<line x1="784" y1="207.50" x2="804" y2="207.50" stroke="#99CCFF" stroke-width="1" shape-rendering="crispEdges"/>
<g transform="translate(794.5 207.50) scale(0.75)"><path d="M-2.50 0.00 h5.00 M-1.00 -2.00 v4.00 M1.00 -2.00 v4.00" stroke="#99CCFF" stroke-width="1" fill="none"/></g>
<text transform="translate(807 210.50) scale(1 1.1)" stroke="#000" stroke-width="0.35">imex68</text>
<line x1="784" y1="224.50" x2="804" y2="224.50" stroke="#FF99CC" stroke-width="1" shape-rendering="crispEdges"/>
<g transform="translate(794.5 224.50) scale(0.75)"><rect x="-2.50" y="-2.50" width="5.00" height="5.00" fill="#FF99CC"/></g>
<text transform="translate(807 227.50) scale(1 1.1)" stroke="#000" stroke-width="0.35">JACN</text>
<line x1="784" y1="240.50" x2="804" y2="240.50" stroke="#CC99FF" stroke-width="1" shape-rendering="crispEdges"/>
<g transform="translate(794.5 240.50) scale(0.75)"><circle cx="0.00" cy="0.00" r="2.50" fill="#CC99FF"/></g>
<text transform="translate(807 243.50) scale(1 1.1)" stroke="#000" stroke-width="0.35">optiongreg</text>
<line x1="784" y1="257.50" x2="804" y2="257.50" stroke="#FFCC99" stroke-width="1" shape-rendering="crispEdges"/>
<g transform="translate(794.5 257.50) scale(0.75)"><path d="M-2.50 0.00 h5.00 M0.00 -2.50 v5.00" stroke="#FFCC99" stroke-width="1.1" fill="none"/></g>
<text transform="translate(807 260.50) scale(1 1.1)" stroke="#000" stroke-width="0.35">PEPIN</text>
<line x1="784" y1="274.50" x2="804" y2="274.50" stroke="#3366FF" stroke-width="1" shape-rendering="crispEdges"/>
<g transform="translate(794.5 274.50) scale(0.75)"><rect x="-2.50" y="-1.00" width="5.00" height="2" fill="#3366FF"/></g>
<text transform="translate(807 277.50) scale(1 1.1)" stroke="#000" stroke-width="0.35">ppvi</text>
<line x1="784" y1="290.50" x2="804" y2="290.50" stroke="#33CCCC" stroke-width="1" shape-rendering="crispEdges"/>
<g transform="translate(794.5 290.50) scale(0.75)"><rect x="-2.50" y="-1.00" width="5.00" height="2" fill="#33CCCC"/></g>
<text transform="translate(807 293.50) scale(1 1.1)" stroke="#000" stroke-width="0.35">therookie</text>
<line x1="784" y1="307.50" x2="804" y2="307.50" stroke="#99CC00" stroke-width="1" shape-rendering="crispEdges"/>
<g transform="translate(794.5 307.50) scale(0.75)"><path d="M0.00 -2.50 L2.50 0.00 L0.00 2.50 L-2.50 0.00 Z" fill="#99CC00"/></g>
<text transform="translate(807 310.50) scale(1 1.1)" stroke="#000" stroke-width="0.35">TonyJimenez</text>
<line x1="784" y1="323.50" x2="804" y2="323.50" stroke="#FFCC00" stroke-width="1" shape-rendering="crispEdges"/>
<g transform="translate(794.5 323.50) scale(0.75)"><rect x="-2.50" y="-2.50" width="5.00" height="5.00" fill="#FFCC00"/></g>
<text transform="translate(807 326.50) scale(1 1.1)" stroke="#000" stroke-width="0.35">X-Trader</text>
<line x1="784" y1="340.50" x2="804" y2="340.50" stroke="#FF9900" stroke-width="1" shape-rendering="crispEdges"/>
<g transform="translate(794.5 340.50) scale(0.75)"><path d="M0.00 -3.00 L2.50 1.75 L-2.50 1.75 Z" fill="#FF9900"/></g>
<text transform="translate(807 343.50) scale(1 1.1)" stroke="#000" stroke-width="0.35">XileF</text>
<line x1="784" y1="356.50" x2="804" y2="356.50" stroke="#FF6600" stroke-width="1" shape-rendering="crispEdges"/>
<g transform="translate(794.5 356.50) scale(0.75)"><path d="M-2.50 0.00 h5.00 M-1.00 -2.00 v4.00 M1.00 -2.00 v4.00" stroke="#FF6600" stroke-width="1" fill="none"/></g>
<text transform="translate(807 359.50) scale(1 1.1)" stroke="#000" stroke-width="0.35">zeq27</text>
<line x1="784" y1="373.50" x2="804" y2="373.50" stroke="#666699" stroke-width="1" shape-rendering="crispEdges"/>
<g transform="translate(794.5 373.50) scale(0.75)"><path d="M-2.00 0.00 h4.00 M-1.00 -1.50 v3.00 M1.00 -1.50 v3.00" stroke="#666699" stroke-width="1" fill="none"/></g>
<text transform="translate(807 376.50) scale(1 1.1)" stroke="#000" stroke-width="0.35">Klonney</text>
<line x1="784" y1="389.50" x2="804" y2="389.50" stroke="#969696" stroke-width="1" shape-rendering="crispEdges"/>
<g transform="translate(794.5 389.50) scale(0.75)"><circle cx="0.00" cy="0.00" r="2.50" fill="#969696"/></g>
<text transform="translate(807 392.50) scale(1 1.1)" stroke="#000" stroke-width="0.35">suarinver</text>
<line x1="784" y1="406.50" x2="804" y2="406.50" stroke="#008000" stroke-width="1" shape-rendering="crispEdges"/>
<g transform="translate(794.5 406.50) scale(0.75)"><path d="M-3.50 0.00 h7.00 M0.00 -3.50 v7.00" stroke="#008000" stroke-width="1.1" fill="none"/></g>
<text transform="translate(807 409.50) scale(1 1.1)" stroke="#000" stroke-width="0.35">madcharo</text>
<line x1="784" y1="422.50" x2="804" y2="422.50" stroke="#339966" stroke-width="1" shape-rendering="crispEdges"/>
<g transform="translate(794.5 422.50) scale(0.75)"><rect x="-2.00" y="-1.00" width="4.00" height="2" fill="#339966"/></g>
<text transform="translate(807 425.50) scale(1 1.1)" stroke="#000" stroke-width="0.35">BillyTheKiller</text>
<line x1="784" y1="439.50" x2="804" y2="439.50" stroke="#003300" stroke-width="1" shape-rendering="crispEdges"/>
<g transform="translate(794.5 439.50) scale(0.75)"><rect x="-2.50" y="-1.00" width="5.00" height="2" fill="#003300"/></g>
<text transform="translate(807 442.50) scale(1 1.1)" stroke="#000" stroke-width="0.35">Napoli</text>
<line x1="784" y1="456.50" x2="804" y2="456.50" stroke="#3366FF" stroke-width="1" shape-rendering="crispEdges"/>
<g transform="translate(794.5 456.50) scale(0.75)"><path d="M0.00 -4.60 L3.75 2.97 L-3.75 2.97 Z" fill="none" stroke="#3366FF" stroke-width="1.1"/></g>
<text transform="translate(807 459.50) scale(1 1.1)" stroke="#000" stroke-width="0.35">KukaTheWinner</text>
<line x1="784" y1="472.50" x2="804" y2="472.50" stroke="#993300" stroke-width="1" shape-rendering="crispEdges"/>
<g transform="translate(794.5 472.50) scale(0.75)"><rect x="-2.50" y="-2.50" width="5.00" height="5.00" fill="#993300"/></g>
<text transform="translate(807 475.50) scale(1 1.1)" stroke="#000" stroke-width="0.35">MrElliot</text>
<line x1="784" y1="489.50" x2="804" y2="489.50" stroke="#993366" stroke-width="1" shape-rendering="crispEdges"/>
<g transform="translate(794.5 489.50) scale(0.75)"><path d="M0.00 -6.00 L5.00 3.50 L-5.00 3.50 Z" fill="#993366"/></g>
<text transform="translate(807 492.50) scale(1 1.1)" stroke="#000" stroke-width="0.35">Trader7</text>
<line x1="784" y1="505.50" x2="804" y2="505.50" stroke="#FF0000" stroke-width="1" shape-rendering="crispEdges"/>
<g transform="translate(794.5 505.50) scale(0.75)"><circle cx="0.00" cy="0.00" r="3.00" fill="none" stroke="#FF0000" stroke-width="1"/></g>
<text transform="translate(807 508.50) scale(1 1.1)" stroke="#000" stroke-width="0.35">litosnano</text>
<line x1="784" y1="523.00" x2="804" y2="523.00" stroke="#000000" stroke-width="2" shape-rendering="crispEdges"/>
<g transform="translate(794.5 523.00) scale(0.75)"><circle cx="0.00" cy="0.00" r="2.75" fill="none" stroke="#000000" stroke-width="1"/></g>
<text transform="translate(807 525.50) scale(1 1.1)" stroke="#000" stroke-width="0.35">Bolsa1</text>
</g>
</svg>
</body></html>
